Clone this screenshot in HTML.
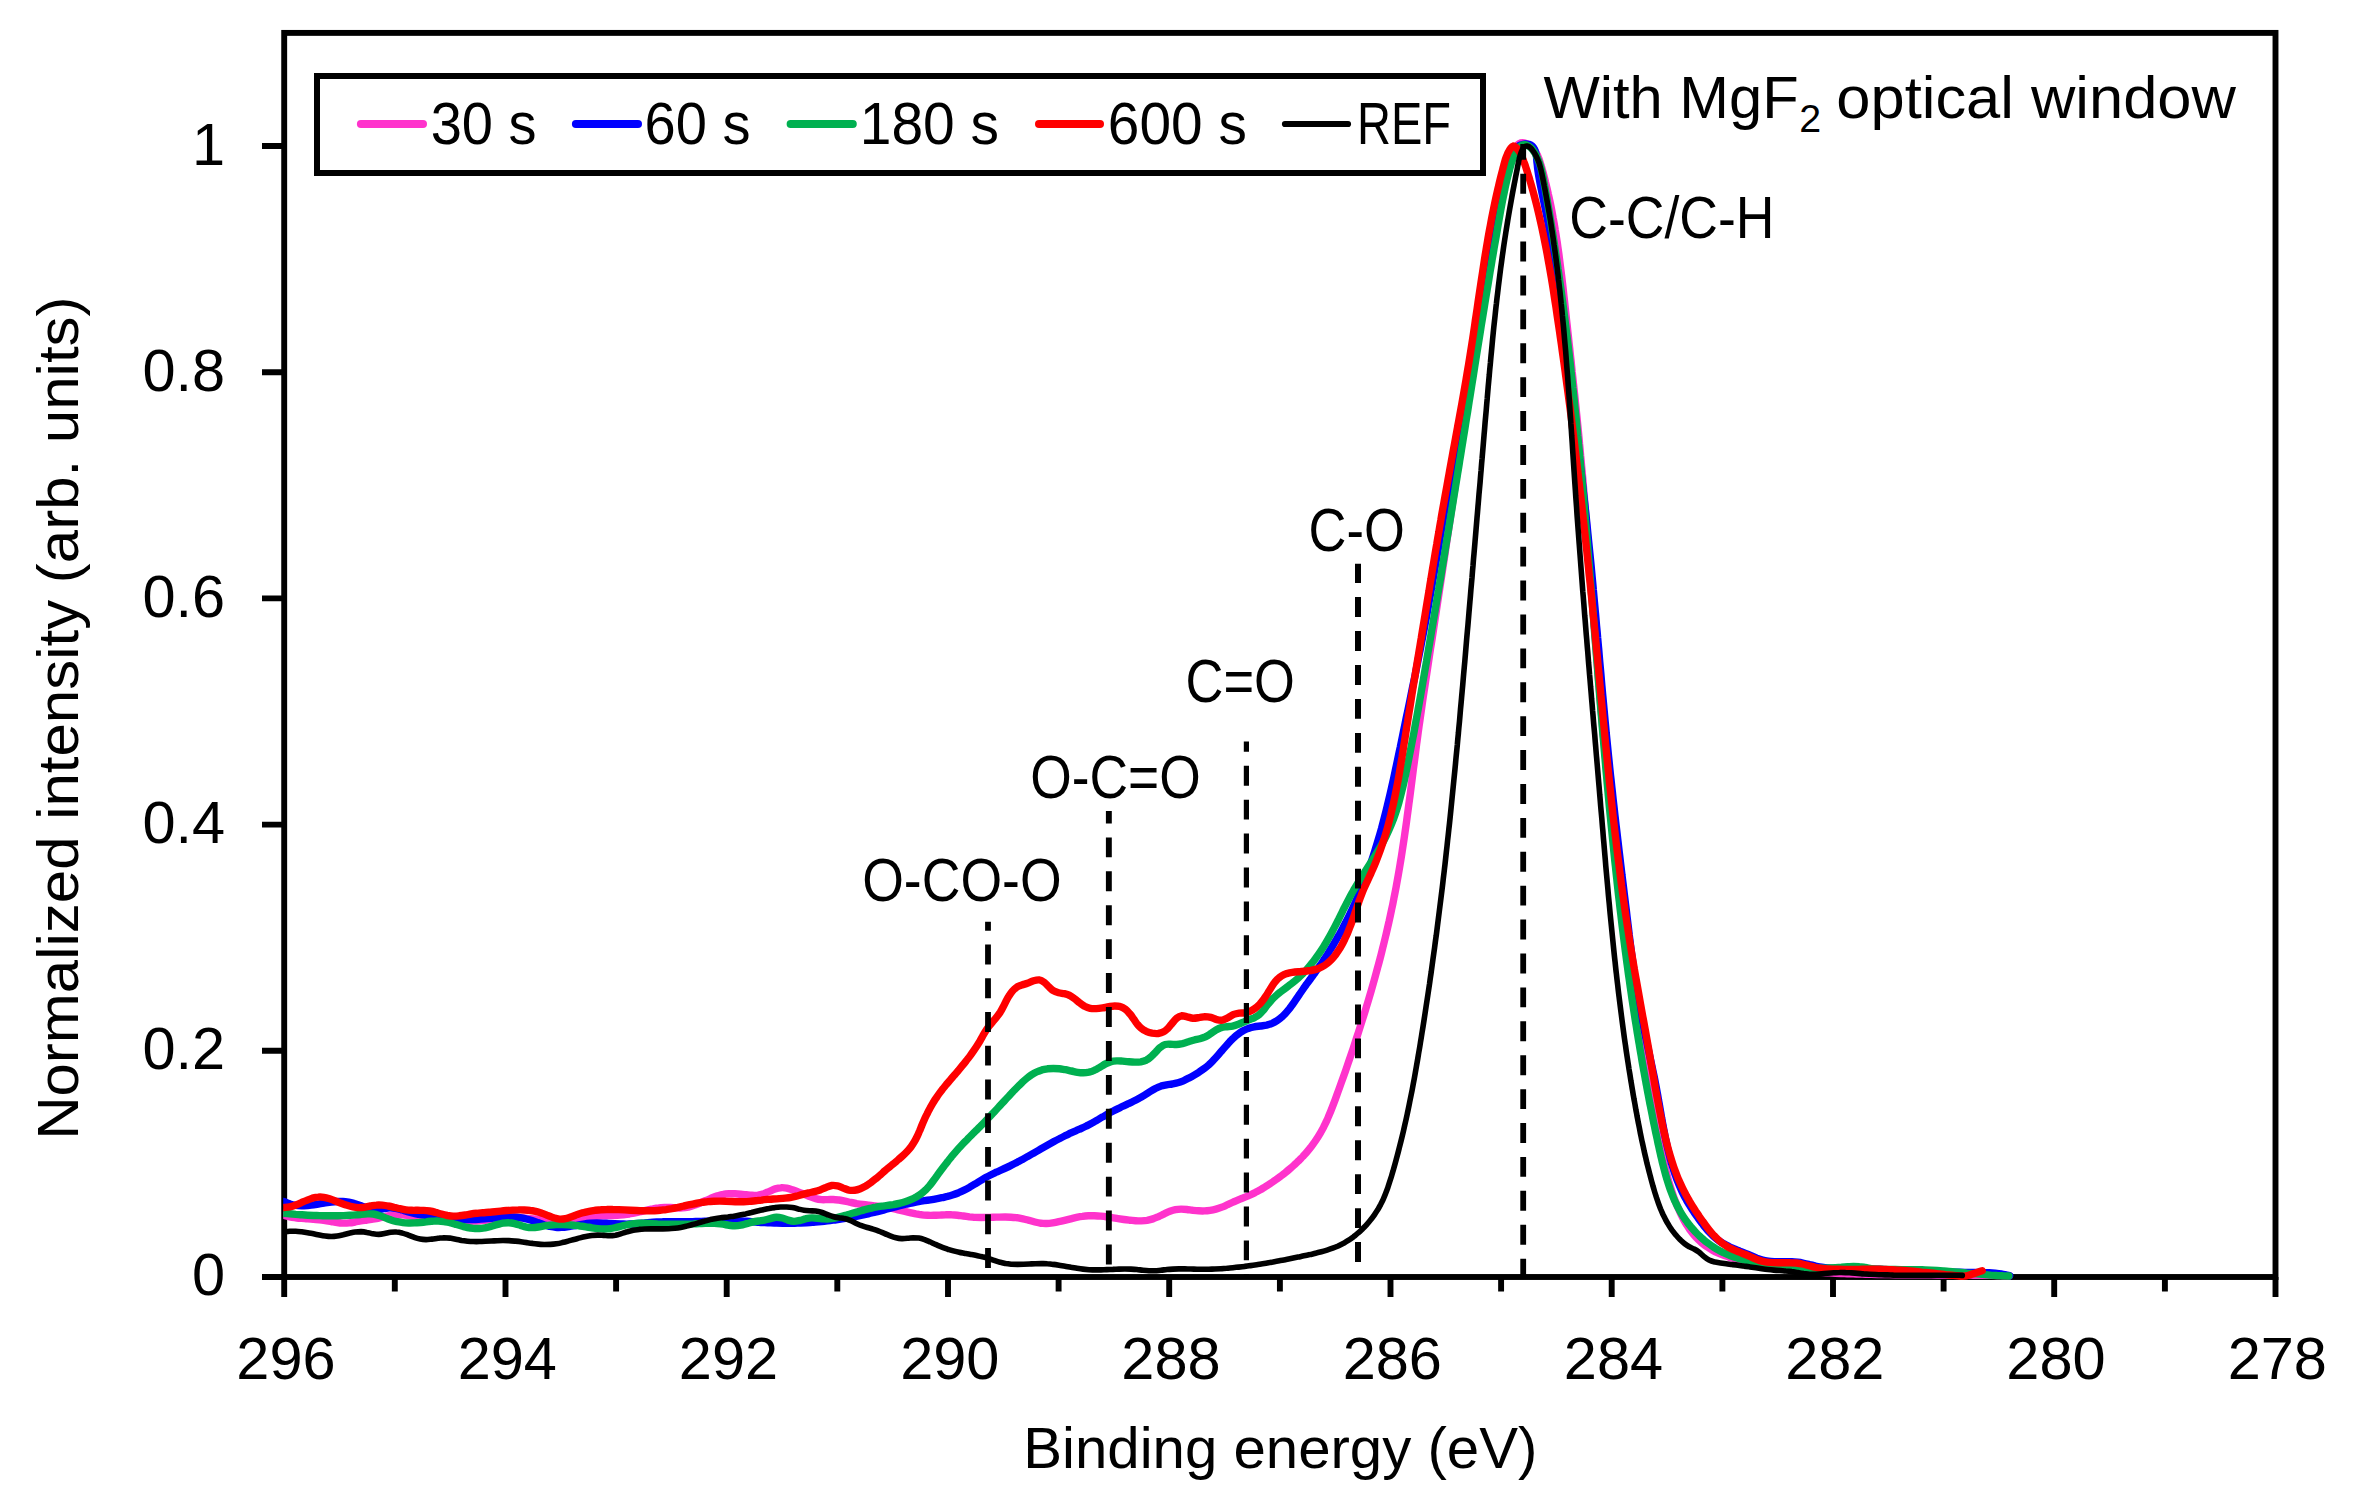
<!DOCTYPE html>
<html lang="en"><head><meta charset="utf-8"><title>C 1s XPS spectra with MgF2 optical window</title>
<style>html,body{margin:0;padding:0;background:#fff}svg{display:block}</style></head>
<body>
<svg width="2357" height="1502" viewBox="0 0 2357 1502">
<rect width="2357" height="1502" fill="#fff"/>
<g fill="none" stroke="#000" stroke-width="5.9" stroke-linecap="butt" stroke-linejoin="miter">
<rect x="284.2" y="32.9" width="1991.3" height="1244.1"/>
<path d="M2275.5,1277.0v20M2164.9,1277.0v14.6M2054.2,1277.0v20M1943.6,1277.0v14.6M1833.0,1277.0v20M1722.4,1277.0v14.6M1611.7,1277.0v20M1501.1,1277.0v14.6M1390.5,1277.0v20M1279.9,1277.0v14.6M1169.2,1277.0v20M1058.6,1277.0v14.6M948.0,1277.0v20M837.3,1277.0v14.6M726.7,1277.0v20M616.1,1277.0v14.6M505.5,1277.0v20M394.8,1277.0v14.6M284.2,1277.0v20M284.2,1277.0H262M284.2,1050.8H262M284.2,824.6H262M284.2,598.4H262M284.2,372.2H262M284.2,146.0H262"/>
</g>
<clipPath id="plotclip"><rect x="283.2" y="0" width="2357" height="1502"/></clipPath>
<g fill="none" stroke-linecap="round" stroke-linejoin="round" clip-path="url(#plotclip)">
<path d="M283.8,1215.3C284.8,1215.6 287.7,1216.4 289.7,1216.8C291.7,1217.2 293.7,1217.5 295.6,1217.8C297.6,1218.1 299.6,1218.3 301.6,1218.4C303.5,1218.6 305.5,1218.7 307.5,1218.9C309.5,1219.0 311.5,1219.1 313.4,1219.3C315.4,1219.4 317.4,1219.6 319.4,1219.8C321.3,1220.0 323.3,1220.3 325.3,1220.6C327.3,1220.9 329.3,1221.3 331.2,1221.6C333.2,1221.9 335.2,1222.3 337.2,1222.5C339.1,1222.8 341.1,1223.0 343.1,1223.1C345.1,1223.2 347.1,1223.1 349.0,1222.9C351.0,1222.8 353.0,1222.4 355.0,1222.0C357.0,1221.7 358.9,1221.2 360.9,1220.9C362.9,1220.5 364.9,1220.3 366.9,1220.0C368.9,1219.7 370.8,1219.5 372.8,1219.2C374.8,1218.9 376.8,1218.6 378.8,1218.1C380.7,1217.7 382.7,1217.1 384.7,1216.6C386.7,1216.1 388.7,1215.5 390.7,1215.2C392.6,1214.9 394.6,1214.6 396.6,1214.5C398.6,1214.5 400.6,1214.6 402.6,1214.8C404.5,1214.9 406.5,1215.3 408.5,1215.6C410.5,1215.9 412.5,1216.3 414.5,1216.7C416.5,1217.0 418.4,1217.4 420.4,1217.6C422.4,1217.9 424.4,1218.2 426.4,1218.4C428.4,1218.6 430.4,1218.8 432.3,1219.0C434.3,1219.1 436.3,1219.3 438.3,1219.5C440.3,1219.6 442.3,1219.8 444.3,1220.0C446.2,1220.1 448.2,1220.3 450.2,1220.5C452.2,1220.6 454.2,1220.8 456.2,1220.9C458.2,1221.0 460.2,1221.1 462.1,1221.2C464.1,1221.3 466.1,1221.3 468.1,1221.3C470.1,1221.3 472.1,1221.2 474.1,1221.1C476.1,1221.1 478.1,1220.9 480.0,1220.7C482.0,1220.6 484.0,1220.4 486.0,1220.2C488.0,1219.9 490.0,1219.7 492.0,1219.5C494.0,1219.3 496.0,1219.0 498.0,1218.8C500.0,1218.6 501.9,1218.4 503.9,1218.3C505.9,1218.1 507.9,1218.0 509.9,1217.9C511.9,1217.8 513.9,1217.8 515.9,1217.8C517.9,1217.8 519.9,1217.9 521.9,1218.0C523.9,1218.1 525.9,1218.2 527.8,1218.4C529.8,1218.5 531.8,1218.7 533.8,1218.9C535.8,1219.1 537.8,1219.3 539.8,1219.5C541.8,1219.7 543.8,1219.8 545.8,1220.0C547.8,1220.1 549.8,1220.3 551.8,1220.4C553.8,1220.5 555.7,1220.5 557.7,1220.6C559.7,1220.6 561.7,1220.5 563.7,1220.4C565.7,1220.3 567.7,1220.1 569.7,1219.9C571.7,1219.7 573.7,1219.3 575.7,1219.0C577.6,1218.7 579.6,1218.4 581.6,1218.0C583.6,1217.7 585.6,1217.4 587.6,1217.1C589.6,1216.9 591.6,1216.7 593.6,1216.5C595.5,1216.3 597.5,1216.2 599.5,1216.1C601.5,1215.9 603.5,1215.9 605.5,1215.8C607.5,1215.7 609.4,1215.6 611.4,1215.5C613.4,1215.4 615.4,1215.3 617.4,1215.2C619.4,1215.1 621.3,1214.9 623.3,1214.7C625.3,1214.5 627.3,1214.3 629.3,1214.0C631.2,1213.6 633.2,1213.3 635.2,1212.9C637.2,1212.5 639.1,1212.0 641.1,1211.5C643.1,1211.1 645.1,1210.6 647.0,1210.1C649.0,1209.7 651.0,1209.2 652.9,1208.9C654.9,1208.5 656.9,1208.1 658.8,1207.9C660.8,1207.6 662.8,1207.5 664.7,1207.4C666.7,1207.3 668.7,1207.4 670.6,1207.5C672.6,1207.6 674.6,1207.8 676.5,1207.9C678.5,1208.0 680.4,1208.1 682.4,1207.9C684.4,1207.8 686.3,1207.5 688.3,1207.1C690.2,1206.6 692.2,1206.0 694.1,1205.3C696.1,1204.7 698.0,1203.8 700.0,1203.0C701.9,1202.2 703.9,1201.3 705.8,1200.5C707.7,1199.6 709.7,1198.8 711.6,1198.0C713.6,1197.2 715.5,1196.5 717.4,1195.9C719.4,1195.3 721.3,1194.7 723.2,1194.4C725.2,1194.0 727.1,1193.9 729.0,1193.8C731.0,1193.7 732.9,1193.7 734.8,1193.8C736.7,1193.9 738.7,1194.1 740.6,1194.2C742.5,1194.4 744.4,1194.7 746.4,1194.8C748.3,1195.0 750.2,1195.3 752.1,1195.3C754.0,1195.4 756.0,1195.4 757.9,1195.2C759.8,1194.9 761.7,1194.4 763.6,1193.8C765.6,1193.1 767.5,1192.1 769.4,1191.3C771.3,1190.5 773.2,1189.5 775.2,1188.9C777.1,1188.3 779.0,1187.8 780.9,1187.7C782.9,1187.5 784.8,1187.8 786.7,1188.1C788.6,1188.5 790.6,1189.2 792.5,1189.8C794.4,1190.4 796.3,1191.1 798.3,1191.9C800.2,1192.6 802.1,1193.4 804.1,1194.2C806.0,1194.9 807.9,1195.8 809.9,1196.6C811.8,1197.3 813.7,1198.1 815.7,1198.6C817.6,1199.1 819.6,1199.4 821.5,1199.6C823.5,1199.8 825.4,1199.6 827.3,1199.6C829.3,1199.6 831.2,1199.5 833.2,1199.5C835.2,1199.6 837.1,1199.8 839.1,1200.0C841.0,1200.3 843.0,1200.7 844.9,1201.1C846.9,1201.5 848.8,1202.0 850.8,1202.4C852.8,1202.9 854.7,1203.2 856.7,1203.6C858.7,1203.9 860.6,1204.2 862.6,1204.5C864.6,1204.8 866.5,1205.0 868.5,1205.2C870.5,1205.5 872.4,1205.7 874.4,1205.9C876.4,1206.2 878.3,1206.4 880.3,1206.6C882.3,1206.9 884.2,1207.2 886.2,1207.5C888.2,1207.8 890.2,1208.1 892.1,1208.5C894.1,1208.9 896.1,1209.3 898.1,1209.8C900.0,1210.2 902.0,1210.7 904.0,1211.2C906.0,1211.7 907.9,1212.2 909.9,1212.6C911.9,1213.1 913.9,1213.5 915.9,1213.9C917.8,1214.2 919.8,1214.6 921.8,1214.8C923.8,1215.1 925.8,1215.2 927.7,1215.3C929.7,1215.4 931.7,1215.4 933.7,1215.3C935.7,1215.3 937.6,1215.2 939.6,1215.1C941.6,1215.0 943.6,1214.8 945.6,1214.8C947.5,1214.7 949.5,1214.7 951.5,1214.8C953.5,1214.8 955.5,1215.0 957.5,1215.2C959.5,1215.4 961.4,1215.8 963.4,1216.0C965.4,1216.3 967.4,1216.6 969.4,1216.9C971.4,1217.1 973.3,1217.2 975.3,1217.4C977.3,1217.5 979.3,1217.5 981.3,1217.5C983.3,1217.5 985.3,1217.5 987.2,1217.4C989.2,1217.4 991.2,1217.3 993.2,1217.2C995.2,1217.2 997.2,1217.1 999.2,1217.1C1001.1,1217.0 1003.1,1217.0 1005.1,1217.0C1007.1,1217.0 1009.1,1217.1 1011.1,1217.2C1013.1,1217.3 1015.0,1217.5 1017.0,1217.7C1019.0,1218.0 1021.0,1218.4 1023.0,1218.8C1025.0,1219.2 1026.9,1219.8 1028.9,1220.3C1030.9,1220.9 1032.9,1221.5 1034.9,1222.0C1036.9,1222.5 1038.9,1223.0 1040.8,1223.2C1042.8,1223.5 1044.8,1223.6 1046.8,1223.5C1048.8,1223.5 1050.8,1223.2 1052.7,1222.9C1054.7,1222.6 1056.7,1222.2 1058.7,1221.7C1060.7,1221.3 1062.7,1220.8 1064.6,1220.3C1066.6,1219.8 1068.6,1219.3 1070.6,1218.8C1072.6,1218.3 1074.5,1217.8 1076.5,1217.4C1078.5,1217.0 1080.5,1216.6 1082.5,1216.4C1084.4,1216.1 1086.4,1215.9 1088.4,1215.8C1090.4,1215.7 1092.4,1215.7 1094.3,1215.7C1096.3,1215.8 1098.3,1215.9 1100.3,1216.1C1102.2,1216.3 1104.2,1216.5 1106.2,1216.8C1108.2,1217.0 1110.1,1217.3 1112.1,1217.6C1114.1,1217.9 1116.0,1218.3 1118.0,1218.6C1119.9,1218.9 1121.9,1219.2 1123.9,1219.5C1125.8,1219.8 1127.8,1220.0 1129.7,1220.2C1131.7,1220.5 1133.6,1220.6 1135.5,1220.7C1137.5,1220.9 1139.4,1220.9 1141.3,1220.9C1143.3,1220.8 1145.2,1220.7 1147.1,1220.4C1149.0,1220.0 1151.0,1219.5 1152.9,1218.9C1154.8,1218.3 1156.7,1217.4 1158.6,1216.6C1160.5,1215.7 1162.4,1214.7 1164.3,1213.8C1166.1,1213.0 1168.0,1212.0 1169.9,1211.3C1171.8,1210.6 1173.6,1210.0 1175.5,1209.6C1177.3,1209.2 1179.2,1209.1 1181.1,1209.1C1183.0,1209.1 1184.9,1209.3 1186.8,1209.5C1188.8,1209.7 1190.7,1210.1 1192.6,1210.3C1194.6,1210.5 1196.5,1210.7 1198.5,1210.8C1200.4,1210.9 1202.4,1211.0 1204.3,1210.9C1206.3,1210.8 1208.2,1210.6 1210.2,1210.3C1212.2,1210.0 1214.1,1209.6 1216.0,1209.1C1218.0,1208.6 1219.9,1207.9 1221.9,1207.1C1223.8,1206.4 1225.7,1205.5 1227.6,1204.7C1229.5,1203.8 1231.4,1202.9 1233.3,1202.0C1235.2,1201.2 1237.1,1200.4 1238.9,1199.6C1240.7,1198.8 1242.6,1198.2 1244.4,1197.4C1246.2,1196.7 1248.0,1196.0 1249.8,1195.2C1251.5,1194.4 1253.3,1193.5 1255.1,1192.6C1256.8,1191.7 1258.5,1190.8 1260.3,1189.8C1262.0,1188.8 1263.7,1187.7 1265.4,1186.7C1267.1,1185.6 1268.8,1184.5 1270.5,1183.4C1272.1,1182.3 1273.8,1181.2 1275.4,1180.0C1277.1,1178.9 1278.7,1177.7 1280.3,1176.5C1282.0,1175.2 1283.6,1174.0 1285.1,1172.8C1286.7,1171.5 1288.3,1170.2 1289.8,1168.9C1291.3,1167.6 1292.8,1166.3 1294.3,1164.9C1295.8,1163.6 1297.2,1162.2 1298.7,1160.8C1300.1,1159.4 1301.5,1157.9 1302.9,1156.5C1304.2,1155.0 1305.6,1153.5 1306.9,1152.0C1308.2,1150.5 1309.4,1149.0 1310.7,1147.4C1311.9,1145.8 1313.1,1144.3 1314.2,1142.6C1315.4,1141.0 1316.5,1139.4 1317.5,1137.7C1318.6,1136.0 1319.6,1134.3 1320.6,1132.6C1321.6,1130.9 1322.5,1129.1 1323.5,1127.4C1324.4,1125.6 1325.2,1123.8 1326.1,1122.0C1326.9,1120.2 1327.4,1119.3 1328.5,1116.5C1329.7,1113.8 1331.6,1109.1 1333.0,1105.4C1334.5,1101.6 1335.9,1097.8 1337.2,1094.0C1338.6,1090.2 1340.0,1086.4 1341.3,1082.6C1342.7,1078.8 1344.0,1075.0 1345.4,1071.2C1346.7,1067.4 1348.0,1063.6 1349.3,1059.8C1350.6,1056.0 1351.9,1052.2 1353.2,1048.4C1354.4,1044.6 1355.7,1040.8 1356.9,1037.0C1358.2,1033.2 1359.4,1029.4 1360.6,1025.5C1361.8,1021.7 1363.0,1017.9 1364.2,1014.1C1365.4,1010.2 1366.5,1006.4 1367.7,1002.6C1368.8,998.8 1370.0,994.9 1371.1,991.1C1372.2,987.2 1373.3,983.4 1374.4,979.6C1375.4,975.7 1376.5,971.9 1377.5,968.0C1378.6,964.2 1379.6,960.3 1380.6,956.5C1381.6,952.6 1382.5,948.7 1383.5,944.9C1384.5,941.0 1385.4,937.1 1386.3,933.3C1387.2,929.4 1388.1,925.5 1389.0,921.6C1389.9,917.7 1390.7,913.9 1391.5,910.0C1392.4,906.1 1393.2,902.2 1393.9,898.3C1394.7,894.4 1395.5,890.5 1396.2,886.6C1396.9,882.6 1397.6,878.7 1398.3,874.8C1399.0,870.9 1399.7,867.0 1400.3,863.0C1401.0,859.1 1401.6,855.2 1402.2,851.2C1402.8,847.3 1403.4,843.4 1404.0,839.4C1404.6,835.5 1405.1,831.5 1405.7,827.6C1406.3,823.6 1406.8,819.7 1407.3,815.7C1407.9,811.8 1408.4,807.8 1408.9,803.8C1409.5,799.9 1410.0,795.9 1410.5,791.9C1411.0,788.0 1411.5,784.0 1412.0,780.0C1412.5,776.1 1413.0,772.1 1413.5,768.1C1414.0,764.1 1414.6,760.2 1415.1,756.2C1415.6,752.2 1416.1,748.2 1416.6,744.3C1417.2,740.3 1417.7,736.3 1418.2,732.3C1418.8,728.3 1419.3,724.4 1419.9,720.4C1420.5,716.4 1421.0,712.4 1421.6,708.4C1422.2,704.5 1422.7,700.5 1423.3,696.5C1423.9,692.5 1424.5,688.5 1425.1,684.6C1425.7,680.6 1426.3,676.6 1426.9,672.6C1427.5,668.7 1428.1,664.7 1428.7,660.7C1429.3,656.7 1429.9,652.8 1430.5,648.8C1431.1,644.8 1431.8,640.9 1432.4,636.9C1433.0,632.9 1433.6,629.0 1434.2,625.0C1434.8,621.0 1435.4,617.1 1436.0,613.1C1436.6,609.2 1437.2,605.2 1437.8,601.3C1438.4,597.3 1439.0,593.4 1439.6,589.4C1440.2,585.5 1440.8,581.5 1441.4,577.6C1442.0,573.7 1442.6,569.7 1443.2,565.8C1443.8,561.8 1444.4,557.9 1445.0,554.0C1445.6,550.0 1446.1,546.1 1446.7,542.2C1447.3,538.2 1447.9,534.3 1448.5,530.4C1449.1,526.5 1449.7,522.5 1450.3,518.6C1450.8,514.7 1451.4,510.7 1452.0,506.8C1452.6,502.9 1453.2,499.0 1453.8,495.0C1454.4,491.1 1455.0,487.2 1455.6,483.3C1456.1,479.3 1456.7,475.4 1457.3,471.5C1457.9,467.6 1458.5,463.7 1459.1,459.7C1459.7,455.8 1460.3,451.9 1460.9,448.0C1461.5,444.0 1462.1,440.1 1462.7,436.2C1463.3,432.3 1463.9,428.3 1464.5,424.4C1465.1,420.5 1465.7,416.6 1466.3,412.6C1466.9,408.7 1467.5,404.8 1468.1,400.9C1468.7,396.9 1469.3,393.0 1469.9,389.1C1470.5,385.1 1471.1,381.2 1471.7,377.3C1472.3,373.3 1473.0,369.4 1473.6,365.5C1474.2,361.5 1474.8,357.6 1475.4,353.6C1476.1,349.7 1476.7,345.8 1477.3,341.8C1478.0,337.9 1478.6,334.0 1479.2,330.0C1479.9,326.1 1480.5,322.1 1481.1,318.2C1481.8,314.3 1482.4,310.3 1483.1,306.4C1483.7,302.5 1484.4,298.5 1485.1,294.6C1485.7,290.6 1486.4,286.7 1487.0,282.8C1487.7,278.8 1488.4,274.9 1489.1,271.0C1489.7,267.1 1490.4,263.1 1491.1,259.2C1491.8,255.3 1492.5,251.3 1493.2,247.4C1493.9,243.5 1494.6,239.6 1495.3,235.6C1496.0,231.7 1496.7,227.8 1497.4,223.9C1498.1,220.0 1498.9,216.1 1499.6,212.1C1500.3,208.2 1501.0,204.3 1501.8,200.4C1502.5,196.5 1503.5,191.3 1504.0,188.7C1504.5,186.1 1504.5,186.1 1504.8,184.8C1505.1,183.5 1505.3,182.2 1505.6,180.9C1505.9,179.6 1506.2,178.3 1506.5,177.0C1506.7,175.7 1507.0,174.4 1507.4,173.1C1507.7,171.8 1508.0,170.5 1508.3,169.2C1508.7,167.9 1509.0,166.6 1509.4,165.3C1509.7,164.0 1510.1,162.7 1510.5,161.4C1510.9,160.1 1511.3,158.8 1511.7,157.5C1512.1,156.2 1512.6,154.9 1513.0,153.6C1513.5,152.3 1514.0,151.0 1514.6,149.8C1515.2,148.6 1515.8,147.3 1516.6,146.2C1517.4,145.2 1518.3,144.1 1519.3,143.6C1520.3,143.0 1521.4,142.8 1522.6,142.8C1523.8,142.8 1525.1,143.1 1526.4,143.6C1527.6,144.1 1528.9,144.8 1530.0,145.6C1531.2,146.4 1532.2,147.4 1533.1,148.3C1534.0,149.3 1534.8,150.4 1535.5,151.5C1536.2,152.5 1536.7,153.7 1537.3,154.9C1537.8,156.0 1538.3,157.3 1538.8,158.5C1539.3,159.7 1539.7,161.0 1540.1,162.3C1540.5,163.6 1540.9,164.9 1541.3,166.2C1541.7,167.5 1542.1,168.9 1542.4,170.2C1542.8,171.5 1543.2,172.9 1543.5,174.2C1543.9,175.5 1544.2,176.8 1544.5,178.2C1544.9,179.5 1544.9,179.5 1545.5,182.1C1546.2,184.8 1547.5,190.1 1548.3,194.1C1549.2,198.0 1550.1,202.0 1550.9,206.0C1551.7,209.9 1552.4,213.9 1553.1,217.9C1553.9,221.8 1554.6,225.8 1555.2,229.8C1555.9,233.7 1556.5,237.7 1557.1,241.6C1557.7,245.6 1558.2,249.6 1558.8,253.5C1559.3,257.5 1559.8,261.4 1560.3,265.4C1560.8,269.3 1561.3,273.3 1561.8,277.3C1562.3,281.2 1562.7,285.2 1563.2,289.1C1563.6,293.1 1564.0,297.0 1564.5,301.0C1564.9,304.9 1565.3,308.9 1565.8,312.8C1566.2,316.8 1566.6,320.7 1567.1,324.7C1567.5,328.6 1567.9,332.6 1568.4,336.5C1568.8,340.5 1569.2,344.4 1569.7,348.4C1570.1,352.3 1570.5,356.3 1571.0,360.2C1571.4,364.2 1571.8,368.1 1572.2,372.1C1572.7,376.1 1573.1,380.0 1573.5,384.0C1573.9,387.9 1574.3,391.9 1574.8,395.8C1575.2,399.8 1575.6,403.7 1576.0,407.7C1576.4,411.7 1576.8,415.6 1577.2,419.6C1577.6,423.5 1578.0,427.5 1578.4,431.5C1578.8,435.4 1579.2,439.4 1579.5,443.4C1579.9,447.3 1580.3,451.3 1580.6,455.3C1581.0,459.2 1581.4,463.2 1581.7,467.2C1582.1,471.2 1582.4,475.1 1582.8,479.1C1583.1,483.1 1583.5,487.1 1583.8,491.0C1584.2,495.0 1584.5,499.0 1584.8,503.0C1585.1,507.0 1585.5,510.9 1585.8,514.9C1586.1,518.9 1586.4,522.9 1586.8,526.9C1587.1,530.9 1587.4,534.9 1587.7,538.8C1588.0,542.8 1588.3,546.8 1588.6,550.8C1588.9,554.8 1589.2,558.8 1589.6,562.8C1589.9,566.8 1590.2,570.8 1590.5,574.8C1590.8,578.8 1591.1,582.7 1591.4,586.7C1591.7,590.7 1592.0,594.7 1592.3,598.7C1592.6,602.7 1592.9,606.7 1593.2,610.7C1593.5,614.7 1593.8,618.7 1594.1,622.7C1594.4,626.7 1594.7,630.7 1595.0,634.7C1595.3,638.7 1595.6,642.7 1595.9,646.7C1596.3,650.7 1596.6,654.6 1596.9,658.6C1597.2,662.6 1597.5,666.6 1597.8,670.6C1598.2,674.6 1598.5,678.6 1598.8,682.6C1599.1,686.6 1599.5,690.6 1599.8,694.6C1600.1,698.6 1600.5,702.6 1600.8,706.6C1601.2,710.6 1601.5,714.5 1601.9,718.5C1602.2,722.5 1602.6,726.5 1602.9,730.5C1603.3,734.5 1603.7,738.5 1604.1,742.5C1604.4,746.5 1604.8,750.4 1605.2,754.4C1605.6,758.4 1606.0,762.4 1606.4,766.4C1606.8,770.4 1607.2,774.3 1607.6,778.3C1608.0,782.3 1608.4,786.3 1608.8,790.3C1609.2,794.2 1609.6,798.2 1610.1,802.2C1610.5,806.2 1610.9,810.2 1611.4,814.1C1611.8,818.1 1612.3,822.1 1612.7,826.1C1613.2,830.0 1613.6,834.0 1614.1,838.0C1614.5,841.9 1615.0,845.9 1615.5,849.9C1615.9,853.9 1616.4,857.8 1616.9,861.8C1617.4,865.8 1617.9,869.7 1618.4,873.7C1618.8,877.7 1619.3,881.6 1619.8,885.6C1620.3,889.6 1620.9,893.5 1621.4,897.5C1621.9,901.5 1622.4,905.4 1622.9,909.4C1623.4,913.3 1624.0,917.3 1624.5,921.3C1625.0,925.2 1625.6,929.2 1626.1,933.1C1626.7,937.1 1627.2,941.1 1627.8,945.0C1628.3,949.0 1628.9,952.9 1629.4,956.9C1630.0,960.8 1630.5,964.8 1631.1,968.7C1631.7,972.7 1632.3,976.6 1632.8,980.6C1633.4,984.5 1634.0,988.5 1634.6,992.4C1635.2,996.4 1635.8,1000.3 1636.4,1004.3C1637.0,1008.2 1637.6,1012.2 1638.2,1016.1C1638.8,1020.1 1639.4,1024.0 1640.0,1028.0C1640.7,1031.9 1641.3,1035.8 1641.9,1039.8C1642.5,1043.7 1643.2,1047.7 1643.8,1051.6C1644.5,1055.5 1645.1,1059.5 1645.7,1063.4C1646.4,1067.4 1647.0,1071.3 1647.7,1075.2C1648.4,1079.2 1649.2,1084.1 1649.7,1087.0C1650.2,1090.0 1650.4,1091.0 1650.7,1092.9C1651.1,1094.9 1651.4,1096.9 1651.7,1098.8C1652.1,1100.8 1652.4,1102.8 1652.8,1104.7C1653.1,1106.7 1653.5,1108.7 1653.8,1110.6C1654.2,1112.6 1654.6,1114.6 1654.9,1116.5C1655.3,1118.5 1655.6,1120.5 1656.0,1122.4C1656.4,1124.4 1656.7,1126.3 1657.1,1128.3C1657.5,1130.3 1657.8,1132.2 1658.2,1134.2C1658.6,1136.2 1659.0,1138.1 1659.4,1140.1C1659.7,1142.1 1660.1,1144.0 1660.5,1146.0C1660.9,1147.9 1661.3,1149.9 1661.7,1151.9C1662.1,1153.8 1662.5,1155.8 1662.9,1157.7C1663.4,1159.7 1663.8,1161.6 1664.2,1163.6C1664.7,1165.5 1665.1,1167.5 1665.6,1169.4C1666.1,1171.4 1666.6,1173.3 1667.1,1175.2C1667.6,1177.1 1668.1,1179.1 1668.6,1181.0C1669.2,1182.9 1669.7,1184.8 1670.3,1186.7C1670.9,1188.6 1671.5,1190.5 1672.2,1192.4C1672.8,1194.3 1673.4,1196.2 1674.1,1198.0C1674.8,1199.9 1675.5,1201.8 1676.3,1203.6C1677.0,1205.5 1677.8,1207.3 1678.6,1209.1C1679.4,1211.0 1680.2,1212.8 1681.1,1214.6C1682.0,1216.4 1682.9,1218.2 1683.8,1219.9C1684.8,1221.7 1685.8,1223.4 1686.8,1225.1C1687.9,1226.8 1689.0,1228.5 1690.1,1230.1C1691.3,1231.7 1692.5,1233.3 1693.8,1234.8C1695.1,1236.3 1696.5,1237.8 1697.9,1239.2C1699.3,1240.7 1700.9,1242.0 1702.4,1243.3C1704.0,1244.6 1705.6,1245.8 1707.3,1247.0C1709.0,1248.1 1710.7,1249.2 1712.5,1250.2C1714.2,1251.2 1716.0,1252.1 1717.8,1252.9C1719.6,1253.7 1721.4,1254.4 1723.2,1255.1C1725.1,1255.8 1726.9,1256.4 1728.8,1257.1C1730.7,1257.7 1732.6,1258.2 1734.5,1258.8C1736.4,1259.4 1738.3,1260.0 1740.2,1260.5C1742.2,1261.0 1744.1,1261.6 1746.1,1262.1C1748.0,1262.5 1750.0,1263.0 1751.9,1263.4C1753.9,1263.9 1755.9,1264.3 1757.8,1264.6C1759.8,1265.0 1761.8,1265.4 1763.8,1265.7C1765.7,1266.1 1767.7,1266.4 1769.7,1266.7C1771.7,1267.0 1773.7,1267.3 1775.7,1267.6C1777.6,1267.9 1779.6,1268.2 1781.6,1268.5C1783.6,1268.7 1785.6,1269.0 1787.6,1269.2C1789.6,1269.5 1791.5,1269.7 1793.5,1269.9C1795.5,1270.2 1797.5,1270.4 1799.5,1270.6C1801.5,1270.8 1803.5,1271.0 1805.5,1271.2C1807.4,1271.3 1809.4,1271.5 1811.4,1271.7C1813.4,1271.8 1815.4,1272.0 1817.4,1272.1C1819.4,1272.3 1821.4,1272.4 1823.4,1272.5C1825.4,1272.7 1827.4,1272.8 1829.4,1272.9C1831.4,1273.0 1833.3,1273.1 1835.3,1273.2C1837.3,1273.3 1839.3,1273.4 1841.3,1273.5C1843.3,1273.6 1845.3,1273.6 1847.3,1273.7C1849.3,1273.8 1851.3,1273.9 1853.3,1273.9C1855.3,1274.0 1857.3,1274.0 1859.3,1274.1C1861.3,1274.1 1863.3,1274.2 1865.3,1274.2C1867.3,1274.3 1869.3,1274.3 1871.3,1274.4C1873.3,1274.4 1875.3,1274.4 1877.3,1274.5C1879.3,1274.5 1881.3,1274.5 1883.3,1274.6C1885.3,1274.6 1887.3,1274.6 1889.3,1274.6C1891.3,1274.7 1893.3,1274.7 1895.3,1274.7C1897.3,1274.7 1899.3,1274.7 1901.3,1274.8C1903.3,1274.8 1905.3,1274.8 1907.3,1274.8C1909.3,1274.8 1911.3,1274.8 1913.3,1274.8C1915.3,1274.8 1917.3,1274.9 1919.3,1274.9C1921.3,1274.9 1923.3,1274.9 1925.3,1274.9C1927.3,1274.9 1929.3,1274.9 1931.3,1274.9C1933.3,1274.9 1935.3,1274.9 1937.3,1275.0C1939.3,1275.0 1941.3,1275.0 1943.3,1275.0C1945.3,1275.0 1947.3,1275.0 1949.3,1275.0C1951.3,1275.0 1953.3,1275.0 1955.3,1275.0C1957.3,1275.1 1959.3,1275.1 1961.3,1275.1C1963.3,1275.1 1965.3,1275.1 1967.3,1275.1C1969.3,1275.1 1971.3,1275.2 1973.3,1275.2C1975.3,1275.2 1977.3,1275.2 1979.3,1275.3C1981.3,1275.3 1983.3,1275.3 1985.3,1275.3C1987.3,1275.4 1989.3,1275.4 1991.3,1275.4C1993.3,1275.5 1995.3,1275.5 1997.3,1275.5C1999.3,1275.6 2001.3,1275.6 2003.3,1275.7C2005.3,1275.7 2008.3,1275.8 2009.3,1275.8" stroke="#FF33CC" stroke-width="7.4"/>
<path d="M283.8,1201.5C284.8,1201.9 287.8,1203.3 289.8,1203.9C291.8,1204.6 293.8,1205.0 295.7,1205.3C297.7,1205.6 299.7,1205.7 301.7,1205.8C303.7,1205.8 305.6,1205.7 307.6,1205.6C309.6,1205.4 311.6,1205.2 313.5,1204.9C315.5,1204.6 317.5,1204.3 319.4,1203.9C321.4,1203.6 323.3,1203.2 325.3,1202.9C327.2,1202.6 329.2,1202.3 331.2,1202.0C333.1,1201.8 335.1,1201.6 337.0,1201.5C339.0,1201.4 340.9,1201.4 342.9,1201.5C344.8,1201.6 346.8,1201.9 348.7,1202.2C350.7,1202.6 352.6,1203.0 354.6,1203.6C356.5,1204.1 358.4,1204.8 360.4,1205.5C362.3,1206.2 364.3,1207.0 366.2,1207.6C368.2,1208.2 370.1,1208.9 372.1,1209.2C374.0,1209.5 376.0,1209.6 377.9,1209.6C379.9,1209.5 381.8,1209.0 383.8,1208.7C385.7,1208.4 387.7,1208.0 389.6,1207.9C391.6,1207.8 393.6,1208.0 395.5,1208.3C397.5,1208.6 399.4,1209.3 401.4,1209.8C403.4,1210.4 405.3,1211.1 407.3,1211.7C409.3,1212.2 411.2,1212.7 413.2,1213.2C415.2,1213.7 417.1,1214.0 419.1,1214.4C421.1,1214.7 423.0,1215.1 425.0,1215.4C427.0,1215.7 429.0,1216.0 430.9,1216.3C432.9,1216.6 434.9,1216.9 436.9,1217.1C438.9,1217.4 440.8,1217.6 442.8,1217.9C444.8,1218.1 446.8,1218.3 448.8,1218.5C450.7,1218.7 452.7,1218.9 454.7,1219.0C456.7,1219.1 458.7,1219.3 460.7,1219.4C462.6,1219.4 464.6,1219.5 466.6,1219.5C468.6,1219.6 470.6,1219.6 472.6,1219.6C474.5,1219.5 476.5,1219.5 478.5,1219.4C480.5,1219.3 482.5,1219.1 484.5,1218.9C486.4,1218.8 488.4,1218.6 490.4,1218.4C492.4,1218.2 494.4,1217.9 496.4,1217.7C498.3,1217.6 500.3,1217.4 502.3,1217.2C504.3,1217.1 506.3,1217.0 508.2,1217.0C510.2,1216.9 512.2,1216.9 514.2,1217.0C516.2,1217.2 518.1,1217.4 520.1,1217.7C522.1,1218.0 524.1,1218.4 526.0,1218.9C528.0,1219.3 530.0,1219.9 531.9,1220.5C533.9,1221.2 535.9,1221.9 537.8,1222.6C539.8,1223.3 541.8,1224.0 543.7,1224.7C545.7,1225.3 547.7,1225.9 549.6,1226.4C551.6,1226.8 553.5,1227.2 555.5,1227.3C557.5,1227.5 559.4,1227.5 561.4,1227.4C563.3,1227.3 565.3,1227.1 567.3,1226.8C569.2,1226.6 571.2,1226.2 573.1,1225.9C575.1,1225.6 577.1,1225.2 579.0,1224.8C581.0,1224.5 583.0,1224.2 584.9,1223.9C586.9,1223.6 588.9,1223.4 590.8,1223.2C592.8,1223.1 594.8,1223.0 596.8,1223.0C598.7,1223.0 600.7,1223.0 602.7,1223.1C604.7,1223.1 606.7,1223.3 608.7,1223.4C610.6,1223.5 612.6,1223.6 614.6,1223.7C616.6,1223.8 618.6,1223.9 620.6,1224.0C622.6,1224.0 624.6,1224.1 626.6,1224.1C628.6,1224.1 630.6,1224.0 632.6,1224.0C634.6,1223.9 636.6,1223.7 638.6,1223.5C640.6,1223.4 642.6,1223.1 644.6,1223.0C646.6,1222.8 648.6,1222.6 650.6,1222.4C652.6,1222.2 654.6,1222.1 656.6,1222.0C658.6,1221.9 660.6,1221.8 662.6,1221.8C664.6,1221.7 666.6,1221.7 668.6,1221.6C670.6,1221.6 672.6,1221.6 674.6,1221.6C676.6,1221.6 678.7,1221.6 680.7,1221.6C682.7,1221.6 684.7,1221.6 686.7,1221.6C688.7,1221.6 690.7,1221.6 692.7,1221.6C694.7,1221.5 696.7,1221.5 698.7,1221.4C700.7,1221.4 702.7,1221.3 704.7,1221.2C706.7,1221.2 708.7,1221.1 710.7,1221.0C712.7,1220.9 714.7,1220.9 716.7,1220.8C718.8,1220.7 720.8,1220.7 722.8,1220.6C724.8,1220.6 726.8,1220.6 728.8,1220.6C730.8,1220.6 732.8,1220.6 734.8,1220.7C736.8,1220.7 738.8,1220.8 740.8,1220.9C742.8,1221.0 744.7,1221.2 746.7,1221.3C748.7,1221.5 750.7,1221.6 752.7,1221.8C754.7,1221.9 756.7,1222.1 758.7,1222.2C760.7,1222.4 762.7,1222.5 764.7,1222.6C766.7,1222.7 768.7,1222.8 770.7,1222.9C772.7,1223.0 774.7,1223.1 776.7,1223.1C778.6,1223.2 780.6,1223.2 782.6,1223.2C784.6,1223.2 786.6,1223.2 788.6,1223.2C790.6,1223.2 792.6,1223.2 794.6,1223.2C796.5,1223.1 798.5,1223.1 800.5,1223.0C802.5,1222.9 804.5,1222.8 806.5,1222.7C808.5,1222.6 810.4,1222.5 812.4,1222.3C814.4,1222.2 816.4,1222.0 818.4,1221.9C820.3,1221.7 822.3,1221.5 824.3,1221.3C826.3,1221.1 828.3,1220.8 830.2,1220.6C832.2,1220.3 834.2,1220.1 836.2,1219.8C838.1,1219.5 840.1,1219.2 842.1,1218.9C844.1,1218.6 846.0,1218.3 848.0,1217.9C850.0,1217.6 852.0,1217.2 853.9,1216.8C855.9,1216.4 857.9,1216.0 859.8,1215.6C861.8,1215.2 863.8,1214.8 865.7,1214.4C867.7,1213.9 869.7,1213.5 871.6,1213.0C873.6,1212.5 875.6,1212.1 877.5,1211.6C879.5,1211.1 881.5,1210.6 883.4,1210.1C885.4,1209.5 887.3,1209.0 889.3,1208.5C891.3,1208.0 893.2,1207.5 895.2,1207.0C897.1,1206.4 899.1,1205.9 901.0,1205.5C903.0,1205.0 905.0,1204.5 906.9,1204.0C908.9,1203.6 910.8,1203.2 912.8,1202.8C914.7,1202.4 916.7,1202.0 918.6,1201.7C920.6,1201.3 922.5,1201.0 924.4,1200.7C926.4,1200.4 928.3,1200.1 930.3,1199.8C932.2,1199.5 934.1,1199.2 936.1,1198.8C938.0,1198.5 939.9,1198.1 941.8,1197.7C943.7,1197.3 945.6,1196.8 947.5,1196.4C949.4,1195.9 951.3,1195.3 953.1,1194.7C955.0,1194.1 956.9,1193.4 958.7,1192.7C960.6,1191.9 962.4,1191.0 964.2,1190.1C966.1,1189.2 967.9,1188.2 969.7,1187.2C971.5,1186.1 973.3,1185.0 975.1,1183.9C976.9,1182.9 978.6,1181.7 980.4,1180.7C982.2,1179.6 983.9,1178.5 985.7,1177.5C987.5,1176.5 989.2,1175.6 991.0,1174.7C992.7,1173.8 994.5,1173.0 996.2,1172.2C998.0,1171.4 999.7,1170.7 1001.5,1169.9C1003.2,1169.1 1004.9,1168.3 1006.7,1167.5C1008.5,1166.7 1010.2,1165.8 1012.0,1164.9C1013.7,1164.1 1015.5,1163.2 1017.2,1162.2C1019.0,1161.3 1020.8,1160.3 1022.5,1159.4C1024.3,1158.4 1026.1,1157.4 1027.8,1156.4C1029.6,1155.4 1031.4,1154.4 1033.1,1153.4C1034.9,1152.4 1036.7,1151.4 1038.5,1150.3C1040.2,1149.3 1042.0,1148.3 1043.8,1147.3C1045.6,1146.3 1047.3,1145.3 1049.1,1144.3C1050.9,1143.3 1052.7,1142.3 1054.4,1141.3C1056.2,1140.3 1058.0,1139.4 1059.8,1138.5C1061.6,1137.5 1063.3,1136.6 1065.1,1135.7C1066.9,1134.9 1068.7,1134.0 1070.4,1133.2C1072.2,1132.4 1074.0,1131.6 1075.8,1130.8C1077.5,1130.0 1079.3,1129.3 1081.1,1128.5C1082.9,1127.7 1084.6,1126.9 1086.4,1126.0C1088.2,1125.2 1089.9,1124.2 1091.7,1123.2C1093.5,1122.3 1095.2,1121.2 1097.0,1120.2C1098.8,1119.2 1100.5,1118.1 1102.3,1117.1C1104.1,1116.1 1105.8,1115.0 1107.6,1114.0C1109.3,1113.1 1111.1,1112.1 1112.8,1111.2C1114.6,1110.3 1116.3,1109.5 1118.1,1108.6C1119.8,1107.8 1121.6,1107.0 1123.3,1106.1C1125.1,1105.3 1126.9,1104.5 1128.6,1103.6C1130.4,1102.8 1132.1,1101.9 1133.9,1101.0C1135.7,1100.1 1137.4,1099.2 1139.2,1098.2C1141.0,1097.3 1142.8,1096.2 1144.6,1095.1C1146.4,1094.0 1148.2,1092.8 1150.0,1091.7C1151.8,1090.6 1153.6,1089.5 1155.4,1088.5C1157.3,1087.6 1159.1,1086.8 1161.0,1086.1C1162.8,1085.5 1164.7,1085.2 1166.6,1084.8C1168.4,1084.5 1170.3,1084.3 1172.2,1084.0C1174.1,1083.6 1176.0,1083.3 1177.8,1082.8C1179.7,1082.3 1181.5,1081.6 1183.4,1080.8C1185.2,1080.0 1187.0,1079.1 1188.8,1078.1C1190.6,1077.2 1192.4,1076.2 1194.2,1075.1C1195.9,1074.1 1197.6,1073.1 1199.3,1071.9C1201.0,1070.8 1202.6,1069.7 1204.2,1068.5C1205.8,1067.3 1207.4,1066.0 1208.9,1064.7C1210.4,1063.3 1211.8,1061.9 1213.2,1060.4C1214.6,1059.0 1216.0,1057.5 1217.4,1055.9C1218.7,1054.4 1220.1,1052.8 1221.4,1051.2C1222.7,1049.7 1224.1,1048.1 1225.4,1046.6C1226.8,1045.0 1228.1,1043.5 1229.5,1042.0C1230.9,1040.6 1232.3,1039.1 1233.8,1037.8C1235.2,1036.5 1236.7,1035.2 1238.3,1034.0C1239.8,1032.9 1241.4,1031.8 1243.1,1030.8C1244.8,1029.9 1246.6,1029.1 1248.4,1028.4C1250.3,1027.8 1252.2,1027.3 1254.2,1026.9C1256.3,1026.5 1258.4,1026.3 1260.5,1026.0C1262.5,1025.7 1264.7,1025.5 1266.6,1025.1C1268.5,1024.6 1270.4,1024.0 1272.1,1023.3C1273.9,1022.5 1275.5,1021.6 1277.1,1020.6C1278.7,1019.6 1280.1,1018.4 1281.6,1017.2C1283.0,1016.0 1284.3,1014.6 1285.6,1013.2C1286.9,1011.8 1288.2,1010.3 1289.4,1008.8C1290.6,1007.2 1291.7,1005.6 1292.9,1004.0C1294.1,1002.4 1295.2,1000.7 1296.3,999.0C1297.5,997.4 1298.6,995.7 1299.7,994.0C1300.9,992.3 1302.0,990.7 1303.2,989.0C1304.3,987.4 1305.5,985.8 1306.6,984.1C1307.8,982.5 1309.0,980.9 1310.2,979.3C1311.3,977.7 1312.5,976.1 1313.7,974.4C1314.8,972.8 1316.0,971.2 1317.1,969.6C1318.3,968.0 1319.4,966.3 1320.6,964.7C1321.7,963.0 1322.8,961.4 1323.9,959.7C1325.0,958.1 1326.1,956.4 1327.2,954.7C1328.3,953.0 1329.3,951.3 1330.4,949.6C1331.4,947.9 1332.5,946.2 1333.5,944.5C1334.5,942.8 1335.5,941.0 1336.5,939.3C1337.5,937.6 1338.5,935.8 1339.5,934.1C1340.5,932.3 1341.4,930.6 1342.4,928.8C1343.3,927.0 1344.2,925.2 1345.2,923.5C1346.1,921.7 1347.0,919.9 1347.9,918.1C1348.8,916.3 1349.7,914.5 1350.5,912.7C1351.4,910.9 1352.3,909.0 1353.1,907.2C1354.0,905.4 1354.8,903.6 1355.6,901.7C1356.4,899.9 1357.2,898.1 1358.0,896.2C1358.8,894.4 1359.6,892.5 1360.4,890.7C1361.1,888.8 1361.5,887.9 1362.6,885.1C1363.7,882.3 1365.6,877.6 1367.0,873.9C1368.3,870.1 1369.7,866.4 1371.0,862.6C1372.3,858.8 1373.5,855.1 1374.7,851.3C1375.9,847.5 1377.1,843.7 1378.2,839.9C1379.3,836.1 1380.4,832.2 1381.5,828.4C1382.5,824.6 1383.5,820.7 1384.5,816.9C1385.5,813.1 1386.5,809.2 1387.4,805.3C1388.4,801.5 1389.3,797.6 1390.2,793.7C1391.1,789.9 1391.9,786.0 1392.8,782.1C1393.7,778.2 1394.5,774.3 1395.3,770.4C1396.2,766.5 1397.0,762.6 1397.8,758.7C1398.6,754.8 1399.4,750.9 1400.3,747.0C1401.1,743.1 1401.9,739.2 1402.7,735.2C1403.5,731.3 1404.3,727.4 1405.1,723.5C1405.9,719.5 1406.7,715.6 1407.6,711.7C1408.4,707.7 1409.2,703.8 1410.0,699.9C1410.8,695.9 1411.6,692.0 1412.4,688.0C1413.2,684.1 1414.0,680.2 1414.9,676.2C1415.7,672.3 1416.4,668.3 1417.2,664.4C1418.0,660.5 1418.8,656.5 1419.6,652.6C1420.4,648.7 1421.1,644.7 1421.9,640.8C1422.7,636.8 1423.4,632.9 1424.2,629.0C1424.9,625.0 1425.6,621.1 1426.4,617.2C1427.1,613.3 1427.8,609.3 1428.5,605.4C1429.2,601.5 1429.9,597.6 1430.6,593.7C1431.3,589.8 1432.0,585.8 1432.6,581.9C1433.3,578.0 1434.0,574.1 1434.6,570.2C1435.3,566.3 1436.0,562.4 1436.6,558.5C1437.3,554.6 1437.9,550.7 1438.6,546.8C1439.2,542.9 1439.9,539.0 1440.5,535.1C1441.2,531.2 1441.8,527.3 1442.5,523.4C1443.1,519.5 1443.8,515.6 1444.4,511.7C1445.1,507.8 1445.7,503.9 1446.4,500.0C1447.0,496.1 1447.7,492.2 1448.4,488.3C1449.1,484.4 1449.7,480.6 1450.4,476.7C1451.1,472.8 1451.8,468.9 1452.5,465.0C1453.2,461.1 1453.9,457.2 1454.7,453.3C1455.4,449.4 1456.2,445.5 1457.0,441.6C1457.7,437.7 1458.5,433.8 1459.3,429.9C1460.0,426.0 1460.8,422.1 1461.5,418.2C1462.2,414.3 1462.9,410.4 1463.5,406.5C1464.2,402.6 1464.8,398.7 1465.4,394.8C1466.0,390.9 1466.6,387.0 1467.2,383.1C1467.8,379.2 1468.4,375.3 1469.0,371.4C1469.6,367.5 1470.2,363.5 1470.9,359.6C1471.5,355.7 1472.1,351.8 1472.7,347.9C1473.4,344.0 1474.0,340.0 1474.6,336.1C1475.3,332.2 1475.9,328.3 1476.6,324.4C1477.2,320.4 1477.9,316.5 1478.5,312.6C1479.2,308.7 1479.9,304.7 1480.5,300.8C1481.2,296.9 1481.9,293.0 1482.6,289.1C1483.2,285.1 1483.9,281.2 1484.6,277.3C1485.3,273.4 1486.0,269.4 1486.7,265.5C1487.4,261.6 1488.2,257.7 1488.9,253.7C1489.6,249.8 1490.3,245.9 1491.1,242.0C1491.8,238.1 1492.6,234.1 1493.3,230.2C1494.1,226.3 1494.8,222.4 1495.6,218.5C1496.4,214.5 1497.2,210.6 1498.0,206.7C1498.7,202.8 1499.5,198.9 1500.4,195.0C1501.2,191.1 1502.3,185.8 1502.9,183.2C1503.4,180.6 1503.4,180.7 1503.8,179.4C1504.1,178.1 1504.4,176.8 1504.7,175.5C1505.1,174.2 1505.4,172.9 1505.8,171.6C1506.1,170.4 1506.5,169.1 1506.9,167.8C1507.3,166.5 1507.7,165.3 1508.1,164.0C1508.5,162.7 1509.0,161.5 1509.5,160.2C1509.9,159.0 1510.4,157.7 1510.9,156.5C1511.5,155.3 1512.0,154.0 1512.6,152.8C1513.3,151.7 1513.9,150.5 1514.8,149.5C1515.6,148.5 1516.6,147.5 1517.7,146.7C1518.8,145.9 1520.0,145.3 1521.3,144.8C1522.5,144.3 1523.9,144.0 1525.2,143.9C1526.5,143.8 1527.8,144.0 1529.0,144.3C1530.2,144.7 1531.3,145.3 1532.2,146.1C1533.1,146.9 1533.8,147.9 1534.4,149.0C1535.0,150.1 1535.4,151.4 1535.7,152.7C1536.1,154.0 1536.3,155.5 1536.5,156.9C1536.7,158.4 1536.8,159.9 1536.9,161.4C1537.1,162.9 1537.2,164.4 1537.4,165.9C1537.5,167.3 1537.7,168.8 1537.9,170.2C1538.1,171.6 1538.1,171.7 1538.5,174.4C1539.0,177.1 1539.9,182.6 1540.7,186.6C1541.5,190.5 1542.3,194.4 1543.1,198.2C1543.9,202.1 1544.7,205.9 1545.5,209.8C1546.2,213.7 1547.0,217.5 1547.7,221.4C1548.4,225.3 1549.1,229.2 1549.8,233.1C1550.4,236.9 1551.1,240.8 1551.7,244.7C1552.3,248.6 1552.9,252.5 1553.5,256.4C1554.1,260.3 1554.7,264.2 1555.3,268.2C1555.8,272.1 1556.4,276.0 1556.9,279.9C1557.4,283.8 1558.0,287.7 1558.5,291.7C1559.0,295.6 1559.5,299.5 1560.0,303.5C1560.5,307.4 1561.0,311.3 1561.5,315.3C1562.0,319.2 1562.4,323.2 1562.9,327.1C1563.4,331.1 1563.9,335.0 1564.4,339.0C1564.8,342.9 1565.3,346.9 1565.8,350.8C1566.3,354.8 1566.7,358.7 1567.2,362.7C1567.7,366.7 1568.2,370.6 1568.7,374.6C1569.2,378.6 1569.7,382.5 1570.2,386.5C1570.7,390.5 1571.2,394.4 1571.7,398.4C1572.2,402.4 1572.7,406.4 1573.2,410.3C1573.8,414.3 1574.3,418.3 1574.8,422.3C1575.3,426.3 1575.8,430.2 1576.3,434.2C1576.8,438.2 1577.4,442.2 1577.9,446.2C1578.4,450.1 1578.9,454.1 1579.4,458.1C1579.9,462.1 1580.3,466.1 1580.8,470.1C1581.3,474.0 1581.8,478.0 1582.3,482.0C1582.7,486.0 1583.2,490.0 1583.6,494.0C1584.1,497.9 1584.5,501.9 1585.0,505.9C1585.4,509.9 1585.9,513.9 1586.3,517.9C1586.7,521.8 1587.1,525.8 1587.5,529.8C1587.9,533.8 1588.3,537.8 1588.7,541.8C1589.1,545.7 1589.5,549.7 1589.9,553.7C1590.3,557.7 1590.7,561.7 1591.1,565.7C1591.5,569.6 1591.8,573.6 1592.2,577.6C1592.6,581.6 1593.0,585.6 1593.3,589.6C1593.7,593.5 1594.0,597.5 1594.4,601.5C1594.8,605.5 1595.1,609.5 1595.5,613.4C1595.8,617.4 1596.2,621.4 1596.5,625.4C1596.9,629.3 1597.3,633.3 1597.6,637.3C1598.0,641.3 1598.3,645.3 1598.7,649.2C1599.0,653.2 1599.4,657.2 1599.7,661.2C1600.1,665.1 1600.4,669.1 1600.8,673.1C1601.1,677.1 1601.5,681.0 1601.8,685.0C1602.2,689.0 1602.5,693.0 1602.9,696.9C1603.3,700.9 1603.6,704.9 1604.0,708.9C1604.4,712.8 1604.7,716.8 1605.1,720.8C1605.5,724.7 1605.9,728.7 1606.2,732.7C1606.6,736.7 1607.0,740.6 1607.4,744.6C1607.8,748.6 1608.2,752.5 1608.6,756.5C1609.0,760.5 1609.4,764.4 1609.8,768.4C1610.2,772.4 1610.6,776.3 1611.1,780.3C1611.5,784.2 1611.9,788.2 1612.4,792.2C1612.8,796.1 1613.2,800.1 1613.7,804.1C1614.1,808.0 1614.6,812.0 1615.0,815.9C1615.5,819.9 1615.9,823.9 1616.4,827.8C1616.9,831.8 1617.3,835.7 1617.8,839.7C1618.3,843.6 1618.7,847.6 1619.2,851.6C1619.7,855.5 1620.1,859.5 1620.6,863.4C1621.1,867.4 1621.6,871.3 1622.0,875.3C1622.5,879.2 1623.0,883.2 1623.5,887.2C1624.0,891.1 1624.4,895.1 1624.9,899.0C1625.4,903.0 1625.9,906.9 1626.4,910.9C1626.8,914.8 1627.3,918.8 1627.8,922.7C1628.3,926.7 1628.8,930.6 1629.2,934.6C1629.7,938.5 1630.2,942.5 1630.7,946.4C1631.2,950.4 1631.7,954.3 1632.3,958.3C1632.8,962.2 1633.3,966.2 1633.9,970.1C1634.4,974.1 1635.0,978.1 1635.6,982.0C1636.2,986.0 1636.8,989.9 1637.5,993.9C1638.1,997.8 1638.8,1001.8 1639.5,1005.7C1640.2,1009.7 1640.9,1013.6 1641.7,1017.6C1642.4,1021.5 1643.2,1025.5 1644.1,1029.4C1644.9,1033.4 1645.7,1037.3 1646.6,1041.3C1647.4,1045.2 1648.3,1049.2 1649.1,1053.1C1650.0,1057.1 1650.8,1061.0 1651.7,1065.0C1652.5,1068.9 1653.4,1072.9 1654.2,1076.8C1655.0,1080.8 1655.9,1085.7 1656.5,1088.7C1657.1,1091.7 1657.2,1092.6 1657.6,1094.6C1657.9,1096.6 1658.3,1098.6 1658.6,1100.5C1659.0,1102.5 1659.3,1104.5 1659.7,1106.5C1660.0,1108.4 1660.4,1110.4 1660.7,1112.4C1661.0,1114.3 1661.4,1116.3 1661.7,1118.3C1662.1,1120.3 1662.4,1122.2 1662.8,1124.2C1663.2,1126.1 1663.5,1128.1 1663.9,1130.1C1664.3,1132.0 1664.6,1134.0 1665.0,1135.9C1665.4,1137.9 1665.8,1139.8 1666.2,1141.8C1666.6,1143.7 1667.1,1145.6 1667.5,1147.6C1668.0,1149.5 1668.4,1151.5 1668.9,1153.4C1669.4,1155.3 1669.9,1157.2 1670.4,1159.2C1670.9,1161.1 1671.4,1163.0 1672.0,1164.9C1672.6,1166.8 1673.1,1168.7 1673.8,1170.6C1674.4,1172.5 1675.0,1174.4 1675.7,1176.2C1676.3,1178.1 1677.0,1180.0 1677.8,1181.8C1678.5,1183.7 1679.3,1185.5 1680.1,1187.3C1680.9,1189.2 1681.7,1191.0 1682.6,1192.8C1683.5,1194.6 1684.4,1196.4 1685.4,1198.2C1686.4,1199.9 1687.4,1201.7 1688.4,1203.4C1689.5,1205.2 1690.5,1206.9 1691.6,1208.6C1692.8,1210.3 1693.9,1212.0 1695.0,1213.7C1696.2,1215.4 1697.4,1217.0 1698.5,1218.6C1699.7,1220.3 1700.9,1221.9 1702.1,1223.5C1703.3,1225.0 1704.5,1226.6 1705.8,1228.1C1707.0,1229.6 1708.3,1231.1 1709.7,1232.6C1711.0,1234.0 1712.4,1235.4 1713.9,1236.7C1715.4,1238.0 1716.9,1239.3 1718.5,1240.4C1720.2,1241.6 1721.9,1242.7 1723.7,1243.7C1725.4,1244.8 1727.2,1245.7 1729.0,1246.5C1730.8,1247.4 1732.6,1248.1 1734.4,1248.9C1736.2,1249.7 1738.0,1250.3 1739.9,1251.1C1741.7,1251.8 1743.5,1252.5 1745.4,1253.3C1747.3,1254.1 1749.2,1254.9 1751.1,1255.7C1753.0,1256.5 1754.9,1257.4 1756.8,1258.2C1758.7,1258.9 1760.7,1259.6 1762.6,1260.1C1764.5,1260.7 1766.5,1261.0 1768.4,1261.3C1770.4,1261.5 1772.3,1261.6 1774.3,1261.7C1776.2,1261.8 1778.2,1261.8 1780.1,1261.8C1782.1,1261.8 1784.1,1261.7 1786.0,1261.7C1788.0,1261.7 1790.0,1261.7 1791.9,1261.8C1793.9,1261.9 1795.9,1262.1 1797.8,1262.3C1799.8,1262.5 1801.8,1262.9 1803.8,1263.3C1805.8,1263.7 1807.7,1264.2 1809.7,1264.7C1811.7,1265.1 1813.7,1265.6 1815.7,1266.1C1817.7,1266.5 1819.6,1266.9 1821.6,1267.2C1823.6,1267.5 1825.6,1267.8 1827.6,1268.0C1829.6,1268.2 1831.6,1268.3 1833.6,1268.4C1835.5,1268.5 1837.5,1268.6 1839.5,1268.6C1841.5,1268.7 1843.5,1268.7 1845.5,1268.7C1847.5,1268.7 1849.5,1268.7 1851.5,1268.7C1853.5,1268.7 1855.5,1268.7 1857.5,1268.7C1859.5,1268.7 1861.5,1268.7 1863.4,1268.7C1865.4,1268.8 1867.4,1268.8 1869.4,1268.9C1871.4,1268.9 1873.4,1269.0 1875.4,1269.1C1877.4,1269.2 1879.4,1269.3 1881.4,1269.4C1883.4,1269.5 1885.4,1269.6 1887.4,1269.7C1889.4,1269.8 1891.4,1269.9 1893.4,1270.0C1895.4,1270.1 1897.4,1270.2 1899.4,1270.3C1901.4,1270.4 1903.4,1270.5 1905.4,1270.6C1907.4,1270.7 1909.4,1270.8 1911.4,1270.9C1913.4,1271.0 1915.4,1271.1 1917.4,1271.1C1919.4,1271.2 1921.4,1271.3 1923.4,1271.4C1925.4,1271.5 1927.4,1271.6 1929.4,1271.6C1931.4,1271.7 1933.4,1271.8 1935.4,1271.8C1937.4,1271.9 1939.4,1272.0 1941.4,1272.0C1943.4,1272.1 1945.4,1272.1 1947.4,1272.2C1949.4,1272.2 1951.3,1272.2 1953.3,1272.3C1955.3,1272.3 1957.3,1272.3 1959.3,1272.3C1961.3,1272.4 1963.3,1272.4 1965.3,1272.4C1967.3,1272.4 1969.3,1272.4 1971.3,1272.4C1973.3,1272.4 1975.3,1272.4 1977.3,1272.4C1979.3,1272.5 1981.3,1272.5 1983.3,1272.6C1985.2,1272.6 1987.2,1272.7 1989.2,1272.8C1991.2,1272.9 1993.2,1273.0 1995.2,1273.1C1997.2,1273.3 1999.2,1273.5 2001.2,1273.8C2003.1,1274.1 2005.7,1274.7 2007.1,1275.0C2008.5,1275.3 2009.3,1275.6 2009.7,1275.7" stroke="#0000FF" stroke-width="7.4"/>
<path d="M283.8,1213.2C284.8,1213.3 287.8,1213.6 289.8,1213.8C291.8,1214.0 293.8,1214.2 295.8,1214.4C297.8,1214.5 299.9,1214.7 301.9,1214.8C303.9,1214.9 305.9,1215.1 307.8,1215.2C309.8,1215.3 311.8,1215.4 313.8,1215.5C315.8,1215.5 317.8,1215.6 319.8,1215.6C321.8,1215.7 323.8,1215.7 325.8,1215.8C327.8,1215.8 329.8,1215.8 331.7,1215.8C333.7,1215.8 335.7,1215.7 337.7,1215.7C339.7,1215.7 341.7,1215.6 343.6,1215.6C345.6,1215.5 347.6,1215.4 349.6,1215.3C351.5,1215.2 353.5,1215.1 355.5,1214.9C357.5,1214.8 359.4,1214.6 361.4,1214.4C363.4,1214.2 365.4,1214.0 367.3,1213.9C369.3,1213.8 371.3,1213.8 373.2,1214.0C375.2,1214.3 377.2,1214.9 379.1,1215.5C381.1,1216.1 383.1,1216.9 385.0,1217.7C387.0,1218.4 389.0,1219.3 390.9,1219.9C392.9,1220.6 394.9,1221.2 396.8,1221.6C398.8,1222.0 400.7,1222.4 402.7,1222.6C404.7,1222.8 406.6,1222.9 408.6,1223.0C410.6,1223.1 412.5,1223.0 414.5,1222.9C416.4,1222.9 418.4,1222.7 420.4,1222.5C422.3,1222.3 424.3,1222.1 426.2,1221.9C428.2,1221.6 430.2,1221.4 432.1,1221.2C434.1,1221.1 436.0,1220.9 438.0,1221.0C440.0,1221.0 441.9,1221.2 443.9,1221.5C445.8,1221.8 447.8,1222.3 449.8,1222.7C451.7,1223.2 453.7,1223.8 455.6,1224.3C457.6,1224.9 459.6,1225.5 461.5,1226.0C463.5,1226.5 465.4,1227.1 467.4,1227.5C469.4,1227.9 471.3,1228.2 473.3,1228.4C475.3,1228.6 477.2,1228.6 479.2,1228.5C481.2,1228.4 483.1,1228.1 485.1,1227.8C487.1,1227.4 489.0,1226.9 491.0,1226.4C493.0,1225.9 494.9,1225.2 496.9,1224.7C498.9,1224.2 500.8,1223.6 502.8,1223.2C504.8,1222.9 506.8,1222.6 508.7,1222.7C510.7,1222.7 512.7,1223.1 514.6,1223.6C516.6,1224.1 518.6,1224.8 520.6,1225.4C522.5,1226.0 524.5,1226.7 526.5,1227.1C528.5,1227.5 530.5,1227.7 532.4,1227.6C534.4,1227.6 536.4,1227.3 538.4,1227.0C540.3,1226.7 542.3,1226.3 544.3,1225.9C546.3,1225.6 548.3,1225.3 550.3,1225.1C552.2,1224.9 554.2,1224.7 556.2,1224.6C558.2,1224.5 560.2,1224.5 562.1,1224.6C564.1,1224.6 566.1,1224.7 568.1,1224.8C570.1,1224.9 572.1,1225.1 574.1,1225.3C576.0,1225.5 578.0,1225.7 580.0,1226.0C582.0,1226.2 584.0,1226.5 586.0,1226.8C587.9,1227.1 589.9,1227.5 591.9,1227.8C593.9,1228.1 595.9,1228.4 597.9,1228.6C599.9,1228.8 601.9,1229.0 603.8,1229.0C605.8,1229.0 607.8,1229.0 609.8,1228.7C611.8,1228.5 613.8,1228.0 615.8,1227.5C617.8,1227.1 619.7,1226.5 621.7,1226.0C623.7,1225.5 625.7,1224.9 627.7,1224.6C629.7,1224.2 631.7,1223.9 633.7,1223.7C635.7,1223.5 637.6,1223.4 639.6,1223.3C641.6,1223.3 643.6,1223.3 645.6,1223.3C647.6,1223.4 649.6,1223.5 651.6,1223.6C653.5,1223.7 655.5,1223.8 657.5,1223.9C659.5,1224.0 661.5,1224.1 663.5,1224.2C665.5,1224.3 667.5,1224.3 669.4,1224.3C671.4,1224.3 673.4,1224.3 675.4,1224.3C677.4,1224.3 679.4,1224.3 681.4,1224.2C683.4,1224.2 685.3,1224.1 687.3,1224.1C689.3,1224.0 691.3,1223.9 693.3,1223.9C695.3,1223.8 697.2,1223.7 699.2,1223.6C701.2,1223.6 703.2,1223.5 705.2,1223.4C707.2,1223.4 709.1,1223.3 711.1,1223.3C713.1,1223.4 715.1,1223.4 717.1,1223.5C719.1,1223.7 721.0,1223.9 723.0,1224.2C725.0,1224.5 727.0,1225.0 729.0,1225.3C730.9,1225.5 732.9,1225.9 734.9,1225.8C736.9,1225.8 738.8,1225.6 740.8,1225.2C742.8,1224.8 744.8,1224.1 746.7,1223.6C748.7,1223.1 750.7,1222.4 752.7,1222.0C754.6,1221.6 756.6,1221.3 758.6,1221.0C760.5,1220.7 762.5,1220.6 764.5,1220.2C766.4,1219.8 768.4,1219.1 770.4,1218.6C772.3,1218.1 774.3,1217.3 776.3,1217.2C778.2,1217.1 780.2,1217.5 782.2,1218.0C784.1,1218.5 786.1,1219.5 788.0,1220.1C790.0,1220.7 792.0,1221.3 793.9,1221.4C795.9,1221.4 797.8,1220.9 799.8,1220.5C801.7,1220.1 803.7,1219.2 805.6,1218.8C807.6,1218.4 809.5,1218.0 811.5,1217.9C813.4,1217.8 815.4,1218.0 817.3,1218.2C819.3,1218.3 821.2,1218.7 823.2,1218.8C825.1,1218.9 827.1,1219.0 829.0,1218.9C831.0,1218.7 832.9,1218.4 834.8,1218.1C836.8,1217.7 838.7,1217.2 840.7,1216.7C842.6,1216.2 844.6,1215.6 846.5,1215.1C848.5,1214.5 850.4,1213.9 852.4,1213.3C854.3,1212.7 856.2,1212.1 858.2,1211.6C860.1,1211.0 862.1,1210.5 864.0,1209.9C866.0,1209.4 867.9,1208.9 869.9,1208.4C871.8,1208.0 873.8,1207.5 875.7,1207.2C877.7,1206.8 879.6,1206.5 881.6,1206.2C883.6,1205.9 885.5,1205.7 887.5,1205.4C889.4,1205.1 891.4,1204.9 893.3,1204.6C895.3,1204.2 897.3,1203.9 899.2,1203.4C901.2,1202.9 903.2,1202.4 905.1,1201.8C907.0,1201.2 908.9,1200.5 910.7,1199.7C912.6,1198.9 914.4,1198.0 916.2,1197.0C917.9,1196.0 919.6,1194.9 921.2,1193.7C922.8,1192.5 924.3,1191.2 925.8,1189.8C927.2,1188.4 928.5,1186.9 929.8,1185.4C931.1,1183.8 932.3,1182.2 933.5,1180.5C934.7,1178.9 935.9,1177.3 937.1,1175.6C938.3,1174.0 939.4,1172.4 940.6,1170.8C941.8,1169.2 943.0,1167.6 944.2,1166.0C945.4,1164.5 946.6,1162.9 947.8,1161.4C949.0,1159.8 950.3,1158.3 951.5,1156.7C952.8,1155.2 954.1,1153.7 955.4,1152.2C956.7,1150.7 958.0,1149.2 959.3,1147.7C960.7,1146.2 962.1,1144.7 963.4,1143.3C964.8,1141.8 966.3,1140.4 967.7,1138.9C969.1,1137.5 970.6,1136.0 972.0,1134.6C973.5,1133.2 974.9,1131.7 976.4,1130.3C977.8,1128.9 979.2,1127.5 980.6,1126.1C982.0,1124.6 983.4,1123.2 984.8,1121.8C986.2,1120.4 987.5,1119.0 988.9,1117.5C990.2,1116.1 991.6,1114.7 992.9,1113.3C994.2,1111.9 995.5,1110.4 996.9,1109.0C998.2,1107.6 999.5,1106.1 1000.9,1104.7C1002.2,1103.3 1003.5,1101.8 1004.9,1100.4C1006.2,1098.9 1007.6,1097.4 1009.0,1096.0C1010.3,1094.5 1011.7,1093.0 1013.1,1091.5C1014.6,1090.0 1016.0,1088.5 1017.5,1087.0C1018.9,1085.6 1020.4,1084.1 1021.9,1082.7C1023.4,1081.2 1025.0,1079.8 1026.6,1078.5C1028.1,1077.3 1029.8,1076.0 1031.4,1074.9C1033.1,1073.8 1034.8,1072.8 1036.5,1072.0C1038.3,1071.2 1040.1,1070.5 1041.9,1069.9C1043.8,1069.4 1045.7,1069.1 1047.6,1068.8C1049.5,1068.6 1051.5,1068.5 1053.4,1068.5C1055.4,1068.5 1057.4,1068.6 1059.4,1068.8C1061.4,1069.0 1063.4,1069.4 1065.5,1069.7C1067.5,1070.1 1069.5,1070.6 1071.5,1071.0C1073.5,1071.4 1075.5,1072.0 1077.5,1072.3C1079.4,1072.6 1081.4,1072.8 1083.3,1072.8C1085.2,1072.8 1087.1,1072.6 1089.0,1072.2C1090.9,1071.7 1092.7,1071.1 1094.5,1070.2C1096.4,1069.4 1098.2,1068.2 1100.0,1067.2C1101.9,1066.1 1103.7,1064.8 1105.5,1063.9C1107.4,1063.0 1109.2,1062.1 1111.1,1061.6C1112.9,1061.1 1114.8,1061.0 1116.8,1060.9C1118.7,1060.8 1120.7,1061.0 1122.7,1061.1C1124.7,1061.3 1126.7,1061.6 1128.8,1061.7C1130.8,1061.9 1132.9,1062.1 1134.9,1062.1C1136.9,1062.2 1138.9,1062.1 1140.8,1061.8C1142.7,1061.4 1144.6,1061.0 1146.4,1060.1C1148.1,1059.2 1149.8,1057.9 1151.3,1056.5C1152.9,1055.2 1154.4,1053.3 1155.9,1051.8C1157.4,1050.2 1158.8,1048.5 1160.4,1047.3C1161.9,1046.1 1163.5,1045.0 1165.2,1044.5C1166.9,1044.0 1168.7,1044.2 1170.5,1044.2C1172.4,1044.2 1174.4,1044.6 1176.4,1044.5C1178.3,1044.4 1180.4,1044.0 1182.4,1043.6C1184.4,1043.1 1186.5,1042.3 1188.5,1041.7C1190.5,1041.1 1192.4,1040.5 1194.3,1040.0C1196.3,1039.5 1198.1,1039.2 1199.9,1038.7C1201.8,1038.2 1203.5,1037.7 1205.3,1036.9C1207.1,1036.0 1208.9,1034.8 1210.7,1033.7C1212.4,1032.5 1214.2,1031.1 1216.0,1030.1C1217.8,1029.1 1219.6,1028.2 1221.4,1027.6C1223.3,1027.1 1225.1,1027.0 1227.0,1026.7C1228.8,1026.5 1230.7,1026.5 1232.6,1026.1C1234.5,1025.7 1236.5,1025.0 1238.4,1024.3C1240.4,1023.6 1242.4,1022.6 1244.2,1021.8C1246.1,1021.0 1247.8,1020.3 1249.5,1019.6C1251.2,1018.9 1252.8,1018.5 1254.4,1017.7C1255.9,1016.9 1257.4,1016.2 1258.8,1015.0C1260.2,1013.8 1261.6,1012.2 1263.0,1010.6C1264.4,1008.9 1265.8,1006.9 1267.2,1005.2C1268.6,1003.5 1270.0,1001.8 1271.4,1000.2C1272.8,998.7 1274.2,997.3 1275.7,996.0C1277.1,994.6 1278.6,993.4 1280.1,992.3C1281.5,991.1 1283.0,990.0 1284.5,988.9C1286.0,987.8 1287.5,986.7 1288.9,985.6C1290.4,984.5 1291.9,983.4 1293.4,982.2C1294.8,981.1 1296.3,979.8 1297.8,978.5C1299.2,977.2 1300.7,975.8 1302.1,974.4C1303.5,972.9 1304.9,971.4 1306.3,969.9C1307.7,968.3 1309.1,966.7 1310.4,965.1C1311.8,963.4 1313.1,961.7 1314.4,960.1C1315.6,958.4 1316.9,956.6 1318.1,954.9C1319.3,953.2 1320.5,951.5 1321.6,949.7C1322.7,948.0 1323.8,946.3 1324.9,944.6C1325.9,942.8 1326.9,941.1 1327.9,939.4C1328.9,937.7 1329.9,936.0 1330.8,934.3C1331.7,932.6 1332.6,930.8 1333.5,929.1C1334.4,927.4 1335.3,925.7 1336.2,924.0C1337.1,922.3 1337.9,920.6 1338.8,918.9C1339.6,917.2 1340.5,915.5 1341.3,913.8C1342.2,912.0 1343.0,910.3 1343.9,908.6C1344.7,906.9 1345.6,905.2 1346.5,903.5C1347.3,901.8 1348.2,900.1 1349.1,898.4C1350.0,896.7 1351.0,894.9 1351.9,893.2C1352.9,891.5 1353.3,890.7 1354.8,888.1C1356.4,885.5 1359.0,881.2 1361.1,877.7C1363.3,874.2 1365.6,870.8 1367.8,867.3C1370.0,863.8 1372.3,860.3 1374.5,856.7C1376.6,853.2 1378.8,849.7 1380.8,846.1C1382.8,842.5 1384.8,838.9 1386.5,835.3C1388.3,831.7 1389.9,828.0 1391.4,824.4C1392.9,820.7 1394.3,817.0 1395.5,813.3C1396.8,809.6 1397.9,805.8 1399.0,802.1C1400.0,798.3 1401.0,794.5 1401.9,790.7C1402.9,787.0 1403.7,783.1 1404.6,779.3C1405.4,775.5 1406.2,771.6 1407.0,767.8C1407.8,763.9 1408.6,760.0 1409.3,756.1C1410.1,752.2 1410.9,748.3 1411.6,744.4C1412.4,740.5 1413.1,736.6 1413.9,732.7C1414.6,728.7 1415.3,724.8 1416.0,720.8C1416.8,716.9 1417.5,712.9 1418.2,709.0C1418.9,705.0 1419.6,701.1 1420.3,697.1C1421.0,693.1 1421.7,689.2 1422.4,685.2C1423.1,681.2 1423.7,677.3 1424.4,673.3C1425.1,669.3 1425.8,665.4 1426.5,661.4C1427.1,657.4 1427.8,653.5 1428.5,649.5C1429.2,645.6 1429.8,641.6 1430.5,637.7C1431.2,633.7 1431.8,629.7 1432.5,625.8C1433.2,621.8 1433.8,617.9 1434.5,614.0C1435.2,610.0 1435.8,606.1 1436.5,602.1C1437.2,598.2 1437.8,594.2 1438.5,590.3C1439.1,586.4 1439.8,582.4 1440.5,578.5C1441.1,574.6 1441.8,570.6 1442.4,566.7C1443.1,562.8 1443.7,558.8 1444.4,554.9C1445.0,551.0 1445.7,547.0 1446.3,543.1C1447.0,539.2 1447.6,535.2 1448.3,531.3C1448.9,527.4 1449.5,523.5 1450.2,519.5C1450.8,515.6 1451.5,511.7 1452.1,507.8C1452.7,503.9 1453.4,499.9 1454.0,496.0C1454.7,492.1 1455.3,488.2 1455.9,484.2C1456.6,480.3 1457.2,476.4 1457.8,472.5C1458.5,468.6 1459.1,464.6 1459.7,460.7C1460.4,456.8 1461.0,452.9 1461.6,449.0C1462.2,445.0 1462.9,441.1 1463.5,437.2C1464.1,433.3 1464.8,429.3 1465.4,425.4C1466.0,421.5 1466.6,417.6 1467.3,413.7C1467.9,409.7 1468.5,405.8 1469.1,401.9C1469.8,398.0 1470.4,394.0 1471.0,390.1C1471.6,386.2 1472.2,382.3 1472.9,378.3C1473.5,374.4 1474.1,370.5 1474.7,366.6C1475.4,362.6 1476.0,358.7 1476.6,354.8C1477.2,350.8 1477.9,346.9 1478.5,343.0C1479.1,339.1 1479.8,335.1 1480.4,331.2C1481.0,327.3 1481.6,323.3 1482.3,319.4C1482.9,315.5 1483.6,311.5 1484.2,307.6C1484.8,303.7 1485.5,299.7 1486.1,295.8C1486.8,291.9 1487.4,287.9 1488.1,284.0C1488.7,280.1 1489.4,276.1 1490.0,272.2C1490.7,268.3 1491.4,264.3 1492.0,260.4C1492.7,256.5 1493.4,252.5 1494.0,248.6C1494.7,244.6 1495.4,240.7 1496.1,236.8C1496.8,232.8 1497.4,228.9 1498.1,225.0C1498.8,221.0 1499.5,217.1 1500.2,213.1C1500.9,209.2 1501.6,205.3 1502.4,201.3C1503.2,197.4 1504.2,192.2 1504.8,189.6C1505.3,186.9 1505.3,186.9 1505.6,185.6C1505.9,184.3 1506.2,183.0 1506.5,181.7C1506.8,180.4 1507.1,179.1 1507.4,177.8C1507.7,176.5 1508.1,175.2 1508.4,174.0C1508.7,172.7 1509.1,171.4 1509.4,170.1C1509.8,168.8 1510.1,167.5 1510.5,166.2C1510.9,164.9 1511.2,163.6 1511.6,162.4C1512.1,161.1 1512.5,159.8 1512.9,158.6C1513.4,157.3 1513.9,156.0 1514.4,154.8C1515.0,153.6 1515.6,152.4 1516.3,151.2C1517.0,150.0 1517.8,148.8 1518.6,147.8C1519.5,146.8 1520.5,145.8 1521.6,145.3C1522.6,144.8 1523.9,144.6 1525.0,144.7C1526.2,144.8 1527.4,145.3 1528.5,145.9C1529.6,146.5 1530.7,147.4 1531.6,148.4C1532.5,149.4 1533.4,150.6 1534.1,151.8C1534.9,152.9 1535.6,154.2 1536.2,155.5C1536.8,156.7 1537.4,158.0 1537.9,159.2C1538.5,160.5 1539.0,161.8 1539.4,163.0C1539.8,164.3 1540.2,165.6 1540.6,166.9C1541.0,168.1 1541.3,169.4 1541.6,170.7C1541.9,172.0 1542.0,172.0 1542.5,174.6C1543.0,177.2 1544.0,182.4 1544.7,186.3C1545.4,190.2 1546.1,194.1 1546.8,198.0C1547.5,201.9 1548.1,205.8 1548.8,209.7C1549.5,213.6 1550.1,217.6 1550.8,221.5C1551.4,225.4 1552.0,229.3 1552.7,233.3C1553.3,237.2 1553.9,241.1 1554.5,245.1C1555.1,249.0 1555.7,253.0 1556.3,256.9C1556.9,260.9 1557.5,264.8 1558.0,268.8C1558.6,272.7 1559.2,276.7 1559.7,280.6C1560.3,284.6 1560.8,288.5 1561.4,292.5C1561.9,296.5 1562.4,300.4 1563.0,304.4C1563.5,308.4 1564.0,312.3 1564.5,316.3C1565.0,320.3 1565.5,324.3 1566.0,328.3C1566.5,332.2 1567.0,336.2 1567.5,340.2C1568.0,344.2 1568.4,348.2 1568.9,352.1C1569.4,356.1 1569.8,360.1 1570.3,364.1C1570.7,368.1 1571.2,372.1 1571.6,376.1C1572.1,380.1 1572.5,384.1 1572.9,388.1C1573.4,392.0 1573.8,396.0 1574.2,400.0C1574.6,404.0 1575.0,408.0 1575.4,412.0C1575.9,416.0 1576.3,420.0 1576.7,424.0C1577.1,428.0 1577.5,432.0 1577.8,436.0C1578.2,440.0 1578.6,444.0 1579.0,448.0C1579.4,452.0 1579.8,456.0 1580.1,460.0C1580.5,464.0 1580.9,468.0 1581.2,472.0C1581.6,476.0 1582.0,480.0 1582.3,484.0C1582.7,488.0 1583.0,491.9 1583.4,495.9C1583.7,499.9 1584.1,503.9 1584.4,507.9C1584.8,511.9 1585.1,515.9 1585.4,519.9C1585.8,523.9 1586.1,527.9 1586.5,531.8C1586.8,535.8 1587.1,539.8 1587.5,543.8C1587.8,547.8 1588.1,551.8 1588.4,555.7C1588.8,559.7 1589.1,563.7 1589.4,567.7C1589.7,571.7 1590.1,575.6 1590.4,579.6C1590.7,583.6 1591.0,587.6 1591.3,591.5C1591.7,595.5 1592.0,599.5 1592.3,603.5C1592.6,607.4 1592.9,611.4 1593.3,615.4C1593.6,619.4 1593.9,623.3 1594.2,627.3C1594.5,631.3 1594.8,635.2 1595.1,639.2C1595.5,643.2 1595.8,647.2 1596.1,651.1C1596.4,655.1 1596.7,659.1 1597.1,663.0C1597.4,667.0 1597.7,671.0 1598.0,675.0C1598.3,678.9 1598.6,682.9 1599.0,686.9C1599.3,690.8 1599.6,694.8 1599.9,698.8C1600.3,702.8 1600.6,706.7 1600.9,710.7C1601.3,714.7 1601.6,718.7 1601.9,722.6C1602.3,726.6 1602.6,730.6 1602.9,734.6C1603.3,738.5 1603.6,742.5 1604.0,746.5C1604.3,750.5 1604.6,754.5 1605.0,758.4C1605.3,762.4 1605.7,766.4 1606.0,770.4C1606.4,774.4 1606.8,778.3 1607.1,782.3C1607.5,786.3 1607.9,790.3 1608.2,794.3C1608.6,798.3 1609.0,802.3 1609.3,806.3C1609.7,810.2 1610.1,814.2 1610.5,818.2C1610.9,822.2 1611.3,826.2 1611.7,830.2C1612.1,834.2 1612.5,838.2 1612.9,842.2C1613.3,846.2 1613.7,850.2 1614.1,854.2C1614.5,858.2 1614.9,862.2 1615.4,866.2C1615.8,870.2 1616.2,874.2 1616.7,878.2C1617.1,882.2 1617.5,886.3 1618.0,890.3C1618.4,894.3 1618.9,898.3 1619.4,902.3C1619.8,906.3 1620.3,910.3 1620.8,914.3C1621.3,918.3 1621.7,922.2 1622.2,926.2C1622.7,930.2 1623.2,934.2 1623.7,938.2C1624.2,942.2 1624.7,946.2 1625.2,950.1C1625.8,954.1 1626.3,958.1 1626.8,962.1C1627.4,966.0 1627.9,970.0 1628.4,974.0C1629.0,977.9 1629.6,981.9 1630.1,985.8C1630.7,989.8 1631.3,993.7 1631.8,997.6C1632.4,1001.6 1633.0,1005.5 1633.6,1009.4C1634.2,1013.4 1634.8,1017.3 1635.4,1021.2C1636.1,1025.1 1636.7,1029.0 1637.3,1032.9C1638.0,1036.8 1638.6,1040.8 1639.3,1044.7C1639.9,1048.6 1640.6,1052.5 1641.3,1056.4C1641.9,1060.3 1642.6,1064.2 1643.3,1068.1C1644.0,1072.0 1644.9,1076.8 1645.4,1079.8C1646.0,1082.7 1646.1,1083.7 1646.5,1085.6C1646.9,1087.6 1647.2,1089.5 1647.6,1091.5C1648.0,1093.4 1648.3,1095.4 1648.7,1097.3C1649.1,1099.3 1649.5,1101.2 1649.8,1103.2C1650.2,1105.1 1650.6,1107.1 1651.0,1109.0C1651.4,1111.0 1651.8,1112.9 1652.2,1114.9C1652.5,1116.8 1652.9,1118.8 1653.3,1120.7C1653.7,1122.7 1654.1,1124.6 1654.5,1126.6C1654.9,1128.5 1655.3,1130.5 1655.7,1132.5C1656.2,1134.4 1656.6,1136.4 1657.0,1138.3C1657.4,1140.3 1657.8,1142.2 1658.2,1144.2C1658.7,1146.2 1659.1,1148.1 1659.5,1150.1C1660.0,1152.0 1660.4,1154.0 1660.8,1155.9C1661.3,1157.9 1661.8,1159.8 1662.2,1161.8C1662.7,1163.7 1663.2,1165.6 1663.7,1167.6C1664.2,1169.5 1664.7,1171.4 1665.2,1173.3C1665.7,1175.2 1666.3,1177.1 1666.8,1179.0C1667.4,1180.9 1668.0,1182.8 1668.6,1184.7C1669.2,1186.6 1669.8,1188.4 1670.5,1190.3C1671.2,1192.1 1671.9,1194.0 1672.6,1195.8C1673.3,1197.6 1674.1,1199.4 1674.9,1201.2C1675.8,1203.0 1676.6,1204.8 1677.5,1206.6C1678.4,1208.3 1679.4,1210.1 1680.4,1211.8C1681.4,1213.5 1682.5,1215.2 1683.6,1216.9C1684.7,1218.6 1685.9,1220.3 1687.1,1221.9C1688.3,1223.5 1689.5,1225.1 1690.8,1226.7C1692.1,1228.2 1693.5,1229.8 1694.8,1231.3C1696.2,1232.7 1697.6,1234.2 1699.1,1235.6C1700.5,1237.0 1702.0,1238.4 1703.6,1239.7C1705.1,1241.0 1706.7,1242.2 1708.3,1243.4C1709.9,1244.6 1711.5,1245.8 1713.2,1246.9C1714.8,1248.0 1716.5,1249.0 1718.3,1250.0C1720.0,1250.9 1721.8,1251.8 1723.5,1252.7C1725.3,1253.5 1727.1,1254.3 1729.0,1255.0C1730.8,1255.8 1732.6,1256.5 1734.5,1257.1C1736.4,1257.7 1738.3,1258.3 1740.2,1258.9C1742.1,1259.4 1744.0,1259.9 1746.0,1260.4C1747.9,1260.9 1749.9,1261.3 1751.8,1261.7C1753.8,1262.1 1755.8,1262.5 1757.7,1262.8C1759.7,1263.1 1761.7,1263.4 1763.7,1263.7C1765.7,1264.0 1767.7,1264.3 1769.7,1264.6C1771.7,1264.8 1773.7,1265.1 1775.7,1265.3C1777.7,1265.6 1779.7,1265.8 1781.7,1266.0C1783.7,1266.2 1785.7,1266.5 1787.7,1266.7C1789.7,1266.9 1791.7,1267.1 1793.7,1267.2C1795.7,1267.4 1797.7,1267.6 1799.7,1267.7C1801.7,1267.8 1803.7,1268.0 1805.7,1268.0C1807.7,1268.1 1809.7,1268.2 1811.6,1268.3C1813.6,1268.3 1815.6,1268.3 1817.6,1268.3C1819.6,1268.3 1821.6,1268.3 1823.6,1268.2C1825.6,1268.2 1827.5,1268.1 1829.5,1268.0C1831.5,1267.9 1833.5,1267.8 1835.5,1267.7C1837.5,1267.6 1839.5,1267.4 1841.5,1267.3C1843.4,1267.1 1845.4,1266.9 1847.4,1266.8C1849.4,1266.7 1851.4,1266.5 1853.4,1266.5C1855.4,1266.5 1857.4,1266.5 1859.3,1266.7C1861.3,1266.8 1863.3,1267.2 1865.3,1267.5C1867.3,1267.8 1869.3,1268.3 1871.3,1268.6C1873.3,1268.9 1875.3,1269.1 1877.3,1269.2C1879.3,1269.3 1881.2,1269.2 1883.2,1269.3C1885.2,1269.3 1887.2,1269.4 1889.2,1269.4C1891.2,1269.4 1893.2,1269.5 1895.2,1269.5C1897.2,1269.6 1899.2,1269.6 1901.2,1269.6C1903.2,1269.6 1905.2,1269.6 1907.2,1269.6C1909.1,1269.6 1911.1,1269.6 1913.1,1269.7C1915.1,1269.7 1917.1,1269.7 1919.1,1269.7C1921.1,1269.8 1923.1,1269.8 1925.1,1269.9C1927.1,1270.0 1929.1,1270.1 1931.1,1270.2C1933.1,1270.3 1935.1,1270.4 1937.1,1270.5C1939.1,1270.6 1941.1,1270.8 1943.1,1270.9C1945.1,1271.1 1947.0,1271.3 1949.0,1271.4C1951.0,1271.6 1953.0,1271.8 1955.0,1271.9C1957.0,1272.1 1959.0,1272.3 1961.0,1272.5C1963.0,1272.7 1965.0,1272.9 1967.0,1273.1C1969.0,1273.2 1971.0,1273.4 1973.0,1273.6C1975.0,1273.8 1977.0,1274.0 1979.0,1274.1C1981.0,1274.3 1983.0,1274.5 1985.0,1274.6C1987.0,1274.8 1988.9,1274.9 1990.9,1275.1C1992.9,1275.2 1994.9,1275.3 1996.9,1275.5C1998.9,1275.6 2000.9,1275.7 2002.9,1275.8C2004.9,1275.8 2007.9,1275.9 2008.9,1276.0" stroke="#00B050" stroke-width="7.4"/>
<path d="M283.8,1207.5C284.7,1207.4 287.6,1207.3 289.5,1206.9C291.4,1206.6 293.3,1205.9 295.2,1205.2C297.1,1204.5 299.0,1203.7 300.9,1202.8C302.8,1202.0 304.7,1201.1 306.6,1200.4C308.5,1199.6 310.4,1198.8 312.3,1198.2C314.2,1197.7 316.2,1197.2 318.1,1197.1C320.0,1196.9 321.9,1197.0 323.8,1197.3C325.8,1197.6 327.7,1198.2 329.6,1198.8C331.6,1199.4 333.5,1200.2 335.4,1201.0C337.4,1201.7 339.3,1202.5 341.2,1203.3C343.2,1204.0 345.1,1204.7 347.1,1205.3C349.0,1205.9 351.0,1206.5 352.9,1206.9C354.9,1207.3 356.8,1207.5 358.8,1207.6C360.7,1207.6 362.7,1207.4 364.6,1207.2C366.6,1206.9 368.5,1206.4 370.5,1206.0C372.4,1205.7 374.4,1205.2 376.4,1205.1C378.3,1204.9 380.3,1205.0 382.2,1205.1C384.2,1205.3 386.2,1205.6 388.1,1206.0C390.1,1206.3 392.1,1206.8 394.0,1207.3C396.0,1207.7 398.0,1208.3 400.0,1208.7C401.9,1209.1 403.9,1209.5 405.9,1209.8C407.8,1210.1 409.8,1210.2 411.8,1210.3C413.8,1210.4 415.7,1210.3 417.7,1210.3C419.7,1210.4 421.7,1210.3 423.6,1210.4C425.6,1210.5 427.6,1210.7 429.6,1211.0C431.5,1211.3 433.5,1211.8 435.5,1212.4C437.5,1212.9 439.4,1213.5 441.4,1214.0C443.4,1214.6 445.4,1215.1 447.4,1215.5C449.3,1215.8 451.3,1216.1 453.3,1216.1C455.3,1216.2 457.2,1216.0 459.2,1215.8C461.2,1215.6 463.2,1215.3 465.2,1215.0C467.1,1214.7 469.1,1214.3 471.1,1214.0C473.1,1213.7 475.0,1213.5 477.0,1213.3C479.0,1213.0 481.0,1212.9 482.9,1212.7C484.9,1212.5 486.9,1212.4 488.9,1212.2C490.8,1212.0 492.8,1211.9 494.8,1211.7C496.7,1211.5 498.7,1211.3 500.7,1211.1C502.7,1210.9 504.6,1210.7 506.6,1210.5C508.6,1210.3 510.5,1210.2 512.5,1210.1C514.5,1210.0 516.4,1209.9 518.4,1209.9C520.4,1209.8 522.3,1209.9 524.3,1210.0C526.3,1210.1 528.2,1210.2 530.2,1210.5C532.2,1210.7 534.1,1211.1 536.1,1211.5C538.0,1212.0 540.0,1212.5 542.0,1213.2C543.9,1213.8 545.9,1214.7 547.9,1215.5C549.8,1216.2 551.8,1217.1 553.7,1217.8C555.7,1218.4 557.7,1218.9 559.6,1219.1C561.6,1219.2 563.6,1219.0 565.5,1218.6C567.5,1218.3 569.5,1217.5 571.4,1216.8C573.4,1216.2 575.3,1215.3 577.3,1214.6C579.3,1213.9 581.2,1213.2 583.2,1212.7C585.2,1212.1 587.1,1211.7 589.1,1211.3C591.1,1210.9 593.0,1210.6 595.0,1210.3C597.0,1210.1 598.9,1209.9 600.9,1209.8C602.9,1209.6 604.8,1209.5 606.8,1209.5C608.8,1209.4 610.7,1209.4 612.7,1209.5C614.7,1209.5 616.6,1209.5 618.6,1209.6C620.6,1209.7 622.6,1209.8 624.5,1209.9C626.5,1210.0 628.5,1210.1 630.5,1210.2C632.4,1210.3 634.4,1210.4 636.4,1210.5C638.4,1210.6 640.3,1210.7 642.3,1210.7C644.3,1210.8 646.3,1210.8 648.2,1210.8C650.2,1210.8 652.2,1210.7 654.2,1210.7C656.1,1210.6 658.1,1210.5 660.1,1210.3C662.1,1210.1 664.1,1209.8 666.1,1209.6C668.0,1209.3 670.0,1208.9 672.0,1208.6C674.0,1208.2 676.0,1207.8 678.0,1207.4C679.9,1206.9 681.9,1206.5 683.9,1206.0C685.9,1205.6 687.9,1205.2 689.9,1204.7C691.9,1204.3 693.8,1203.9 695.8,1203.5C697.8,1203.1 699.8,1202.8 701.8,1202.4C703.8,1202.1 705.8,1201.9 707.8,1201.6C709.8,1201.4 711.8,1201.3 713.8,1201.2C715.7,1201.1 717.7,1201.1 719.7,1201.1C721.7,1201.1 723.7,1201.2 725.7,1201.3C727.7,1201.3 729.7,1201.4 731.7,1201.5C733.7,1201.6 735.7,1201.7 737.7,1201.7C739.7,1201.7 741.7,1201.8 743.7,1201.7C745.7,1201.7 747.6,1201.6 749.6,1201.4C751.6,1201.3 753.6,1201.0 755.6,1200.8C757.6,1200.6 759.6,1200.3 761.6,1200.1C763.5,1199.8 765.5,1199.6 767.5,1199.4C769.5,1199.3 771.5,1199.2 773.4,1199.0C775.4,1198.9 777.4,1198.8 779.3,1198.6C781.3,1198.5 783.3,1198.4 785.2,1198.1C787.2,1197.9 789.2,1197.7 791.1,1197.3C793.1,1197.0 795.0,1196.5 797.0,1196.0C798.9,1195.5 800.9,1195.0 802.8,1194.4C804.7,1193.9 806.7,1193.4 808.6,1192.9C810.5,1192.4 812.5,1192.1 814.4,1191.6C816.3,1191.1 818.2,1190.6 820.2,1189.9C822.1,1189.2 824.0,1188.2 825.9,1187.5C827.8,1186.7 829.7,1185.8 831.7,1185.5C833.6,1185.2 835.5,1185.5 837.4,1185.9C839.3,1186.3 841.2,1187.4 843.1,1188.1C845.1,1188.8 847.0,1189.7 848.9,1190.1C850.8,1190.4 852.8,1190.4 854.7,1190.2C856.6,1190.0 858.5,1189.4 860.3,1188.7C862.2,1188.0 864.0,1187.0 865.8,1186.0C867.6,1184.9 869.3,1183.7 871.0,1182.5C872.6,1181.3 874.2,1180.0 875.8,1178.7C877.4,1177.5 878.9,1176.1 880.4,1174.9C881.9,1173.6 883.3,1172.2 884.8,1170.9C886.3,1169.6 887.8,1168.4 889.4,1167.1C890.9,1165.8 892.4,1164.6 894.0,1163.3C895.5,1162.0 897.1,1160.8 898.6,1159.4C900.1,1158.1 901.6,1156.8 903.0,1155.5C904.5,1154.1 905.9,1152.7 907.3,1151.2C908.6,1149.8 909.9,1148.3 911.1,1146.7C912.3,1145.1 913.4,1143.4 914.4,1141.7C915.5,1139.9 916.4,1138.1 917.3,1136.2C918.2,1134.3 918.9,1132.4 919.8,1130.5C920.6,1128.6 921.3,1126.6 922.1,1124.7C922.9,1122.8 923.7,1121.0 924.5,1119.2C925.3,1117.3 926.2,1115.6 927.1,1113.8C927.9,1112.1 928.8,1110.3 929.8,1108.6C930.7,1106.9 931.6,1105.3 932.6,1103.6C933.6,1102.0 934.6,1100.3 935.7,1098.7C936.8,1097.1 937.8,1095.5 939.0,1093.9C940.1,1092.4 941.3,1090.8 942.5,1089.2C943.8,1087.7 945.0,1086.1 946.3,1084.5C947.6,1083.0 949.0,1081.4 950.3,1079.9C951.6,1078.3 953.0,1076.8 954.3,1075.2C955.7,1073.6 957.0,1072.1 958.4,1070.5C959.7,1068.9 961.0,1067.3 962.3,1065.7C963.6,1064.1 964.9,1062.5 966.2,1060.9C967.4,1059.3 968.7,1057.7 969.9,1056.1C971.1,1054.5 972.3,1052.8 973.4,1051.2C974.5,1049.6 975.6,1048.0 976.7,1046.3C977.7,1044.7 978.7,1043.1 979.7,1041.5C980.6,1039.8 981.5,1038.2 982.4,1036.6C983.3,1034.9 984.2,1033.3 985.2,1031.7C986.3,1030.0 987.4,1028.4 988.6,1026.8C989.8,1025.2 991.3,1023.6 992.6,1021.9C994.0,1020.3 995.4,1018.7 996.7,1017.0C998.0,1015.4 999.2,1013.7 1000.3,1012.1C1001.4,1010.4 1002.2,1008.7 1003.1,1007.0C1004.0,1005.3 1004.8,1003.6 1005.7,1001.8C1006.6,1000.1 1007.5,998.2 1008.6,996.5C1009.7,994.7 1010.9,992.8 1012.2,991.3C1013.6,989.7 1015.0,988.3 1016.6,987.3C1018.2,986.2 1019.9,985.7 1021.7,985.1C1023.5,984.4 1025.4,984.0 1027.4,983.3C1029.4,982.6 1031.6,981.4 1033.6,980.8C1035.6,980.2 1037.6,979.6 1039.4,979.9C1041.1,980.1 1042.7,981.2 1044.3,982.4C1045.8,983.5 1047.2,985.2 1048.7,986.6C1050.2,988.0 1051.7,989.7 1053.3,990.7C1055.0,991.8 1056.8,992.3 1058.6,992.8C1060.4,993.3 1062.5,993.3 1064.3,993.7C1066.2,994.2 1068.0,994.7 1069.8,995.5C1071.5,996.4 1073.1,997.6 1074.8,998.9C1076.4,1000.1 1078.0,1001.6 1079.6,1002.8C1081.3,1004.0 1082.9,1005.3 1084.6,1006.3C1086.4,1007.2 1088.3,1007.9 1090.2,1008.3C1092.1,1008.7 1094.2,1008.7 1096.3,1008.6C1098.3,1008.5 1100.5,1008.2 1102.6,1007.9C1104.6,1007.6 1106.7,1007.0 1108.8,1006.7C1110.8,1006.4 1112.8,1006.0 1114.7,1006.0C1116.6,1006.0 1118.5,1006.0 1120.3,1006.6C1122.1,1007.1 1123.8,1008.1 1125.4,1009.3C1127.0,1010.5 1128.5,1012.2 1129.8,1013.8C1131.2,1015.4 1132.4,1017.2 1133.6,1018.9C1134.8,1020.6 1135.8,1022.3 1137.0,1023.8C1138.3,1025.3 1139.5,1026.8 1141.1,1028.1C1142.6,1029.3 1144.4,1030.4 1146.2,1031.3C1148.0,1032.1 1150.1,1032.8 1152.1,1033.2C1154.0,1033.5 1156.1,1033.7 1158.1,1033.5C1160.0,1033.2 1161.9,1032.7 1163.6,1031.8C1165.2,1031.0 1166.6,1029.6 1168.1,1028.2C1169.5,1026.8 1170.7,1025.0 1172.1,1023.3C1173.5,1021.7 1175.0,1019.6 1176.6,1018.3C1178.2,1017.1 1179.9,1016.1 1181.6,1015.8C1183.4,1015.6 1185.2,1016.4 1187.1,1016.8C1189.0,1017.2 1191.0,1018.1 1192.9,1018.2C1194.9,1018.3 1196.9,1017.9 1198.9,1017.6C1200.9,1017.4 1202.9,1016.7 1204.9,1016.6C1206.9,1016.6 1208.9,1016.9 1210.9,1017.4C1212.8,1017.9 1214.8,1019.2 1216.7,1019.6C1218.6,1020.1 1220.6,1020.5 1222.5,1020.2C1224.4,1019.9 1226.2,1018.6 1228.1,1017.7C1230.0,1016.7 1231.9,1015.2 1233.7,1014.4C1235.6,1013.7 1237.4,1013.4 1239.2,1013.1C1241.0,1012.8 1242.9,1013.1 1244.7,1012.9C1246.5,1012.6 1248.3,1012.1 1250.0,1011.4C1251.8,1010.6 1253.5,1009.5 1255.2,1008.2C1256.8,1007.0 1258.4,1005.5 1259.9,1004.0C1261.3,1002.4 1262.6,1000.7 1263.9,999.0C1265.1,997.3 1266.2,995.5 1267.4,993.7C1268.5,991.9 1269.5,990.1 1270.6,988.4C1271.7,986.7 1272.8,985.0 1273.9,983.4C1275.0,981.9 1276.2,980.4 1277.5,979.1C1278.8,977.9 1280.2,976.7 1281.7,975.8C1283.2,974.9 1284.9,974.2 1286.7,973.6C1288.5,973.1 1290.4,972.7 1292.3,972.4C1294.3,972.1 1296.3,971.9 1298.4,971.7C1300.4,971.5 1302.6,971.4 1304.6,971.2C1306.7,971.0 1308.8,970.8 1310.8,970.5C1312.8,970.1 1314.8,969.7 1316.7,969.1C1318.6,968.5 1320.4,967.7 1322.1,966.8C1323.8,965.9 1325.4,964.8 1327.0,963.6C1328.5,962.5 1330.0,961.1 1331.4,959.7C1332.8,958.3 1334.1,956.7 1335.3,955.1C1336.6,953.5 1337.7,951.8 1338.8,950.1C1340.0,948.3 1341.0,946.5 1342.0,944.7C1343.0,942.9 1343.9,941.0 1344.8,939.1C1345.7,937.2 1346.6,935.4 1347.4,933.5C1348.2,931.6 1348.9,929.7 1349.6,927.9C1350.4,926.0 1351.1,924.2 1351.7,922.3C1352.4,920.5 1353.0,918.6 1353.7,916.8C1354.3,914.9 1355.0,913.1 1355.6,911.2C1356.2,909.4 1356.8,907.5 1357.5,905.7C1358.1,903.9 1358.8,902.0 1359.4,900.2C1360.1,898.3 1360.8,896.5 1361.5,894.7C1362.2,892.8 1362.9,891.0 1363.7,889.1C1364.5,887.3 1364.9,886.4 1366.2,883.6C1367.5,880.8 1369.7,876.2 1371.3,872.5C1373.0,868.8 1374.6,865.1 1376.1,861.3C1377.6,857.6 1379.0,853.8 1380.4,850.0C1381.7,846.3 1383.0,842.5 1384.2,838.7C1385.4,834.9 1386.5,831.1 1387.6,827.2C1388.6,823.4 1389.6,819.6 1390.6,815.7C1391.5,811.9 1392.4,808.0 1393.3,804.1C1394.1,800.3 1395.0,796.4 1395.7,792.5C1396.5,788.6 1397.2,784.7 1398.0,780.8C1398.7,776.9 1399.4,773.0 1400.0,769.1C1400.7,765.2 1401.3,761.2 1402.0,757.3C1402.6,753.4 1403.2,749.4 1403.8,745.5C1404.5,741.5 1405.1,737.6 1405.7,733.6C1406.3,729.7 1406.9,725.7 1407.6,721.8C1408.2,717.8 1408.8,713.8 1409.5,709.9C1410.1,705.9 1410.8,701.9 1411.4,697.9C1412.0,694.0 1412.7,690.0 1413.3,686.0C1414.0,682.0 1414.6,678.1 1415.3,674.1C1415.9,670.1 1416.6,666.1 1417.2,662.2C1417.9,658.2 1418.6,654.2 1419.2,650.3C1419.9,646.3 1420.5,642.3 1421.2,638.4C1421.8,634.4 1422.5,630.4 1423.1,626.5C1423.8,622.5 1424.4,618.6 1425.1,614.6C1425.7,610.7 1426.4,606.7 1427.0,602.8C1427.7,598.8 1428.3,594.9 1429.0,591.0C1429.6,587.0 1430.2,583.1 1430.9,579.2C1431.5,575.2 1432.2,571.3 1432.8,567.4C1433.5,563.5 1434.1,559.6 1434.8,555.6C1435.4,551.7 1436.1,547.8 1436.8,543.9C1437.4,540.0 1438.1,536.1 1438.8,532.2C1439.4,528.3 1440.1,524.3 1440.8,520.4C1441.4,516.5 1442.1,512.6 1442.8,508.7C1443.5,504.8 1444.2,500.9 1444.9,497.0C1445.6,493.1 1446.3,489.2 1447.0,485.3C1447.7,481.4 1448.4,477.5 1449.1,473.6C1449.8,469.7 1450.5,465.8 1451.2,461.9C1451.9,458.0 1452.6,454.1 1453.3,450.2C1454.1,446.3 1454.8,442.4 1455.5,438.5C1456.2,434.6 1456.9,430.7 1457.6,426.8C1458.4,422.9 1459.1,419.0 1459.8,415.0C1460.5,411.1 1461.2,407.2 1461.9,403.3C1462.6,399.4 1463.3,395.5 1464.0,391.5C1464.7,387.6 1465.3,383.7 1466.0,379.8C1466.7,375.8 1467.3,371.9 1468.0,368.0C1468.7,364.1 1469.3,360.1 1469.9,356.2C1470.6,352.2 1471.2,348.3 1471.8,344.4C1472.4,340.4 1473.0,336.5 1473.6,332.5C1474.2,328.6 1474.8,324.6 1475.3,320.6C1475.9,316.7 1476.5,312.7 1477.1,308.8C1477.7,304.8 1478.2,300.9 1478.8,296.9C1479.4,292.9 1480.0,289.0 1480.6,285.0C1481.2,281.1 1481.8,277.1 1482.4,273.2C1483.0,269.2 1483.6,265.2 1484.2,261.3C1484.8,257.3 1485.5,253.4 1486.1,249.5C1486.8,245.5 1487.5,241.6 1488.1,237.6C1488.8,233.7 1489.5,229.8 1490.3,225.8C1491.0,221.9 1491.7,218.0 1492.5,214.1C1493.3,210.1 1494.1,206.2 1494.9,202.3C1495.7,198.4 1496.9,193.2 1497.5,190.6C1498.1,188.0 1498.1,188.1 1498.4,186.8C1498.7,185.5 1499.0,184.2 1499.3,182.9C1499.6,181.6 1499.9,180.3 1500.2,179.0C1500.6,177.7 1500.9,176.4 1501.2,175.1C1501.5,173.8 1501.9,172.6 1502.2,171.3C1502.5,170.0 1502.9,168.7 1503.2,167.4C1503.5,166.1 1503.9,164.8 1504.2,163.6C1504.6,162.3 1504.9,161.0 1505.3,159.7C1505.7,158.5 1506.2,157.2 1506.7,155.9C1507.2,154.7 1507.7,153.4 1508.3,152.2C1509.0,150.9 1509.7,149.5 1510.5,148.5C1511.3,147.4 1512.3,146.2 1513.2,146.0C1514.1,145.9 1515.1,146.7 1516.0,147.5C1516.9,148.2 1517.8,149.5 1518.6,150.6C1519.3,151.7 1520.0,152.9 1520.7,154.2C1521.3,155.4 1521.9,156.7 1522.4,158.0C1523.0,159.3 1523.5,160.6 1523.9,161.9C1524.4,163.1 1524.9,164.4 1525.3,165.6C1525.7,166.9 1526.1,168.1 1526.5,169.4C1526.9,170.6 1527.3,171.9 1527.7,173.1C1528.1,174.4 1528.5,175.6 1528.9,176.9C1529.3,178.2 1529.6,179.4 1530.0,180.7C1530.4,181.9 1530.4,181.9 1531.1,184.5C1531.8,187.0 1533.2,192.1 1534.3,195.9C1535.3,199.7 1536.3,203.6 1537.2,207.4C1538.1,211.3 1539.1,215.2 1539.9,219.0C1540.8,222.9 1541.7,226.8 1542.5,230.7C1543.3,234.6 1544.1,238.6 1544.9,242.5C1545.7,246.4 1546.5,250.4 1547.2,254.3C1547.9,258.3 1548.6,262.2 1549.3,266.2C1550.0,270.1 1550.7,274.1 1551.4,278.1C1552.0,282.0 1552.7,286.0 1553.3,290.0C1553.9,294.0 1554.5,298.0 1555.1,301.9C1555.8,305.9 1556.4,309.9 1556.9,313.9C1557.5,317.9 1558.1,321.9 1558.7,325.9C1559.3,329.8 1559.9,333.8 1560.4,337.8C1561.0,341.8 1561.6,345.8 1562.1,349.7C1562.7,353.7 1563.2,357.7 1563.8,361.7C1564.3,365.6 1564.9,369.6 1565.4,373.6C1566.0,377.6 1566.5,381.5 1567.0,385.5C1567.6,389.5 1568.1,393.5 1568.6,397.4C1569.1,401.4 1569.7,405.4 1570.2,409.3C1570.7,413.3 1571.2,417.3 1571.7,421.2C1572.2,425.2 1572.7,429.2 1573.2,433.2C1573.7,437.1 1574.2,441.1 1574.7,445.1C1575.1,449.0 1575.6,453.0 1576.1,456.9C1576.6,460.9 1577.1,464.9 1577.5,468.8C1578.0,472.8 1578.5,476.8 1578.9,480.7C1579.4,484.7 1579.8,488.7 1580.3,492.6C1580.8,496.6 1581.2,500.6 1581.7,504.5C1582.1,508.5 1582.5,512.4 1583.0,516.4C1583.4,520.4 1583.9,524.3 1584.3,528.3C1584.7,532.3 1585.2,536.2 1585.6,540.2C1586.0,544.2 1586.4,548.1 1586.9,552.1C1587.3,556.1 1587.7,560.0 1588.1,564.0C1588.5,568.0 1588.9,571.9 1589.3,575.9C1589.8,579.8 1590.2,583.8 1590.6,587.8C1591.0,591.7 1591.4,595.7 1591.8,599.7C1592.2,603.7 1592.6,607.6 1592.9,611.6C1593.3,615.6 1593.7,619.5 1594.1,623.5C1594.5,627.5 1594.9,631.4 1595.3,635.4C1595.7,639.4 1596.0,643.4 1596.4,647.3C1596.8,651.3 1597.2,655.3 1597.6,659.3C1597.9,663.2 1598.3,667.2 1598.7,671.2C1599.1,675.2 1599.4,679.1 1599.8,683.1C1600.2,687.1 1600.6,691.1 1600.9,695.1C1601.3,699.0 1601.7,703.0 1602.1,707.0C1602.4,711.0 1602.8,714.9 1603.2,718.9C1603.6,722.9 1604.0,726.9 1604.4,730.9C1604.7,734.8 1605.1,738.8 1605.5,742.8C1605.9,746.8 1606.3,750.8 1606.7,754.7C1607.1,758.7 1607.5,762.7 1607.9,766.7C1608.3,770.6 1608.7,774.6 1609.1,778.6C1609.5,782.6 1609.9,786.6 1610.4,790.5C1610.8,794.5 1611.2,798.5 1611.6,802.5C1612.1,806.4 1612.5,810.4 1612.9,814.4C1613.4,818.4 1613.8,822.3 1614.3,826.3C1614.7,830.3 1615.2,834.3 1615.7,838.2C1616.1,842.2 1616.6,846.2 1617.1,850.1C1617.6,854.1 1618.1,858.1 1618.6,862.0C1619.1,866.0 1619.6,870.0 1620.1,873.9C1620.6,877.9 1621.1,881.9 1621.6,885.8C1622.2,889.8 1622.7,893.8 1623.3,897.7C1623.8,901.7 1624.4,905.7 1624.9,909.6C1625.5,913.6 1626.1,917.5 1626.7,921.5C1627.3,925.4 1627.9,929.4 1628.5,933.3C1629.1,937.3 1629.7,941.3 1630.4,945.2C1631.0,949.2 1631.7,953.1 1632.3,957.0C1633.0,961.0 1633.7,964.9 1634.3,968.9C1635.0,972.8 1635.7,976.8 1636.4,980.7C1637.1,984.7 1637.8,988.6 1638.5,992.5C1639.2,996.5 1639.9,1000.4 1640.6,1004.3C1641.3,1008.3 1642.0,1012.2 1642.7,1016.1C1643.5,1020.1 1644.2,1024.0 1644.9,1027.9C1645.6,1031.9 1646.3,1035.8 1647.0,1039.7C1647.7,1043.7 1648.4,1047.6 1649.1,1051.5C1649.8,1055.5 1650.4,1059.4 1651.1,1063.3C1651.8,1067.2 1652.5,1071.2 1653.2,1075.1C1653.9,1079.0 1654.7,1083.9 1655.2,1086.9C1655.8,1089.8 1655.9,1090.8 1656.3,1092.8C1656.6,1094.7 1657.0,1096.7 1657.4,1098.7C1657.7,1100.6 1658.1,1102.6 1658.5,1104.6C1658.8,1106.5 1659.2,1108.5 1659.6,1110.4C1660.0,1112.4 1660.4,1114.4 1660.8,1116.3C1661.2,1118.3 1661.6,1120.3 1662.0,1122.2C1662.4,1124.2 1662.8,1126.1 1663.2,1128.1C1663.7,1130.1 1664.1,1132.0 1664.6,1134.0C1665.0,1135.9 1665.5,1137.9 1665.9,1139.9C1666.4,1141.8 1666.9,1143.8 1667.4,1145.7C1667.9,1147.6 1668.4,1149.6 1669.0,1151.5C1669.5,1153.4 1670.1,1155.4 1670.7,1157.3C1671.2,1159.2 1671.8,1161.1 1672.5,1163.0C1673.1,1164.9 1673.7,1166.8 1674.4,1168.7C1675.1,1170.5 1675.8,1172.4 1676.5,1174.3C1677.2,1176.1 1677.9,1178.0 1678.7,1179.8C1679.5,1181.6 1680.3,1183.4 1681.2,1185.2C1682.0,1187.0 1682.9,1188.8 1683.8,1190.6C1684.7,1192.4 1685.6,1194.1 1686.5,1195.9C1687.5,1197.6 1688.5,1199.3 1689.5,1201.1C1690.5,1202.8 1691.5,1204.5 1692.6,1206.2C1693.7,1207.9 1694.7,1209.6 1695.8,1211.3C1696.9,1212.9 1698.1,1214.6 1699.2,1216.3C1700.4,1218.0 1701.5,1219.6 1702.7,1221.3C1703.9,1222.9 1705.1,1224.6 1706.3,1226.2C1707.5,1227.8 1708.7,1229.4 1710.0,1231.0C1711.3,1232.5 1712.6,1234.1 1714.0,1235.5C1715.3,1237.0 1716.7,1238.4 1718.2,1239.7C1719.6,1241.0 1721.1,1242.3 1722.7,1243.5C1724.3,1244.6 1725.9,1245.7 1727.6,1246.7C1729.3,1247.7 1731.0,1248.5 1732.8,1249.4C1734.6,1250.2 1736.5,1251.0 1738.3,1251.7C1740.2,1252.5 1742.1,1253.2 1744.0,1254.0C1745.9,1254.8 1747.8,1255.5 1749.7,1256.4C1751.6,1257.2 1753.5,1258.1 1755.3,1258.8C1757.2,1259.6 1759.1,1260.3 1761.0,1260.9C1763.0,1261.4 1764.9,1261.8 1766.8,1262.1C1768.7,1262.4 1770.7,1262.5 1772.6,1262.6C1774.6,1262.7 1776.5,1262.7 1778.5,1262.7C1780.4,1262.7 1782.4,1262.7 1784.4,1262.6C1786.4,1262.6 1788.3,1262.6 1790.3,1262.7C1792.3,1262.7 1794.3,1262.8 1796.3,1263.0C1798.3,1263.3 1800.3,1263.6 1802.2,1264.0C1804.2,1264.4 1806.2,1265.0 1808.2,1265.5C1810.2,1266.0 1812.2,1266.6 1814.2,1267.0C1816.2,1267.5 1818.2,1267.9 1820.1,1268.2C1822.1,1268.5 1824.1,1268.6 1826.1,1268.8C1828.1,1268.9 1830.1,1269.0 1832.1,1269.1C1834.1,1269.2 1836.1,1269.3 1838.1,1269.3C1840.0,1269.4 1842.0,1269.4 1844.0,1269.4C1846.0,1269.4 1848.0,1269.4 1850.0,1269.4C1852.0,1269.4 1854.0,1269.4 1856.0,1269.4C1858.0,1269.4 1860.0,1269.3 1862.0,1269.3C1863.9,1269.3 1865.9,1269.3 1867.9,1269.3C1869.9,1269.3 1871.9,1269.2 1873.9,1269.3C1875.9,1269.3 1877.9,1269.3 1879.9,1269.3C1881.9,1269.4 1883.9,1269.4 1885.9,1269.5C1887.9,1269.6 1889.8,1269.7 1891.8,1269.8C1893.8,1269.9 1895.8,1270.0 1897.8,1270.1C1899.8,1270.2 1901.8,1270.4 1903.8,1270.5C1905.8,1270.7 1907.8,1270.8 1909.8,1271.0C1911.8,1271.2 1913.8,1271.4 1915.8,1271.5C1917.7,1271.7 1919.7,1271.9 1921.7,1272.1C1923.7,1272.3 1925.7,1272.5 1927.7,1272.7C1929.7,1272.9 1931.7,1273.1 1933.7,1273.3C1935.7,1273.5 1937.7,1273.8 1939.7,1274.0C1941.6,1274.2 1943.6,1274.4 1945.6,1274.6C1947.6,1274.8 1949.6,1275.0 1951.6,1275.2C1953.6,1275.4 1955.2,1275.7 1957.6,1275.8C1960.0,1275.9 1962.1,1276.7 1966.2,1275.8C1970.3,1275.0 1979.5,1271.6 1982.2,1270.7" stroke="#FF0000" stroke-width="7.4"/>
<path d="M283.8,1231.9C284.8,1231.8 287.8,1231.4 289.7,1231.3C291.7,1231.2 293.7,1231.2 295.7,1231.3C297.7,1231.4 299.6,1231.6 301.6,1231.8C303.6,1232.1 305.6,1232.4 307.6,1232.7C309.5,1233.1 311.5,1233.4 313.5,1233.8C315.5,1234.2 317.4,1234.6 319.4,1235.0C321.4,1235.4 323.4,1235.8 325.4,1236.0C327.3,1236.3 329.3,1236.5 331.3,1236.5C333.3,1236.5 335.2,1236.3 337.2,1236.0C339.2,1235.7 341.2,1235.2 343.2,1234.8C345.1,1234.3 347.1,1233.8 349.1,1233.3C351.1,1232.9 353.0,1232.4 355.0,1232.1C357.0,1231.8 359.0,1231.6 360.9,1231.6C362.9,1231.7 364.9,1232.0 366.9,1232.4C368.8,1232.7 370.8,1233.4 372.8,1233.8C374.8,1234.1 376.7,1234.4 378.7,1234.4C380.7,1234.3 382.7,1233.9 384.6,1233.5C386.6,1233.1 388.6,1232.5 390.6,1232.2C392.5,1232.0 394.5,1231.8 396.5,1232.0C398.5,1232.1 400.4,1232.6 402.4,1233.1C404.4,1233.6 406.4,1234.4 408.3,1235.1C410.3,1235.8 412.3,1236.7 414.2,1237.4C416.2,1238.1 418.2,1238.7 420.2,1239.1C422.1,1239.5 424.1,1239.6 426.1,1239.6C428.1,1239.6 430.0,1239.3 432.0,1239.1C434.0,1238.9 436.0,1238.5 437.9,1238.3C439.9,1238.1 441.9,1237.8 443.8,1237.7C445.8,1237.7 447.8,1237.9 449.8,1238.1C451.7,1238.4 453.7,1238.8 455.7,1239.2C457.7,1239.6 459.6,1240.1 461.6,1240.5C463.6,1240.8 465.5,1241.0 467.5,1241.2C469.5,1241.4 471.5,1241.5 473.4,1241.5C475.4,1241.6 477.4,1241.6 479.3,1241.5C481.3,1241.5 483.3,1241.4 485.3,1241.3C487.2,1241.2 489.2,1241.1 491.2,1241.0C493.2,1240.9 495.1,1240.8 497.1,1240.7C499.1,1240.6 501.0,1240.5 503.0,1240.5C505.0,1240.5 507.0,1240.5 508.9,1240.6C510.9,1240.7 512.9,1240.9 514.9,1241.1C516.8,1241.3 518.8,1241.5 520.8,1241.8C522.7,1242.1 524.7,1242.4 526.7,1242.6C528.7,1242.9 530.6,1243.2 532.6,1243.4C534.6,1243.7 536.5,1243.9 538.5,1244.1C540.5,1244.3 542.5,1244.4 544.4,1244.5C546.4,1244.5 548.4,1244.5 550.4,1244.4C552.3,1244.3 554.3,1244.1 556.3,1243.8C558.2,1243.5 560.2,1243.1 562.2,1242.6C564.2,1242.2 566.1,1241.7 568.1,1241.1C570.1,1240.6 572.1,1240.0 574.0,1239.5C576.0,1239.0 578.0,1238.4 580.0,1237.9C581.9,1237.4 583.9,1236.9 585.9,1236.5C587.9,1236.1 589.8,1235.8 591.8,1235.5C593.8,1235.3 595.7,1235.1 597.7,1235.1C599.7,1235.1 601.7,1235.3 603.6,1235.4C605.6,1235.5 607.6,1235.7 609.6,1235.7C611.5,1235.7 613.5,1235.5 615.5,1235.2C617.5,1234.8 619.4,1234.2 621.4,1233.6C623.4,1233.1 625.4,1232.3 627.3,1231.8C629.3,1231.2 631.3,1230.7 633.3,1230.3C635.3,1229.9 637.2,1229.7 639.2,1229.4C641.2,1229.2 643.2,1229.1 645.1,1229.0C647.1,1228.9 649.1,1228.9 651.1,1228.9C653.0,1228.9 655.0,1228.9 657.0,1228.9C659.0,1228.9 660.9,1228.9 662.9,1228.9C664.9,1228.9 666.9,1228.9 668.8,1228.8C670.8,1228.7 672.8,1228.5 674.8,1228.3C676.7,1228.1 678.7,1227.8 680.7,1227.4C682.7,1227.1 684.6,1226.6 686.6,1226.1C688.6,1225.6 690.6,1225.1 692.5,1224.5C694.5,1224.0 696.5,1223.4 698.4,1222.8C700.4,1222.3 702.4,1221.7 704.4,1221.2C706.3,1220.6 708.3,1220.1 710.3,1219.6C712.2,1219.2 714.2,1218.8 716.2,1218.4C718.1,1218.1 720.1,1217.9 722.1,1217.6C724.0,1217.4 726.0,1217.2 728.0,1217.0C729.9,1216.7 731.9,1216.5 733.9,1216.2C735.8,1215.9 737.8,1215.5 739.7,1215.1C741.7,1214.7 743.7,1214.3 745.6,1213.9C747.6,1213.4 749.5,1212.9 751.5,1212.5C753.4,1212.0 755.4,1211.5 757.4,1211.0C759.3,1210.6 761.3,1210.1 763.2,1209.7C765.2,1209.3 767.1,1208.8 769.1,1208.5C771.0,1208.1 773.0,1207.8 774.9,1207.6C776.9,1207.3 778.8,1207.1 780.7,1207.0C782.7,1206.9 784.6,1206.9 786.6,1207.0C788.5,1207.1 790.5,1207.3 792.4,1207.6C794.3,1208.0 796.3,1208.5 798.2,1209.0C800.1,1209.4 802.1,1209.9 804.0,1210.2C805.9,1210.5 807.9,1210.6 809.8,1210.7C811.7,1210.9 813.6,1210.8 815.6,1211.1C817.5,1211.4 819.4,1211.8 821.3,1212.3C823.3,1212.9 825.2,1213.8 827.1,1214.5C829.0,1215.2 831.0,1216.0 832.9,1216.5C834.8,1217.1 836.7,1217.4 838.6,1217.7C840.5,1218.1 842.5,1218.1 844.4,1218.6C846.3,1219.0 848.2,1219.6 850.1,1220.4C852.0,1221.2 853.9,1222.3 855.8,1223.2C857.8,1224.1 859.7,1225.0 861.6,1225.7C863.5,1226.4 865.4,1227.0 867.3,1227.5C869.2,1228.1 871.1,1228.5 873.0,1229.1C875.0,1229.7 876.9,1230.3 878.8,1231.1C880.7,1231.8 882.6,1232.7 884.5,1233.5C886.4,1234.2 888.3,1235.1 890.2,1235.8C892.1,1236.5 894.0,1237.2 896.0,1237.7C897.9,1238.2 899.8,1238.5 901.7,1238.6C903.6,1238.7 905.5,1238.5 907.4,1238.3C909.3,1238.2 911.2,1237.9 913.1,1237.8C915.1,1237.8 917.0,1237.8 918.9,1238.1C920.8,1238.4 922.7,1239.0 924.6,1239.6C926.5,1240.3 928.5,1241.2 930.4,1242.0C932.3,1242.9 934.2,1243.9 936.1,1244.7C938.0,1245.5 940.0,1246.4 941.9,1247.1C943.8,1247.8 945.7,1248.5 947.6,1249.2C949.6,1249.8 951.5,1250.4 953.4,1250.9C955.3,1251.4 957.3,1251.9 959.2,1252.3C961.1,1252.8 963.1,1253.1 965.0,1253.5C966.9,1253.8 968.9,1254.1 970.8,1254.5C972.7,1254.8 974.7,1255.1 976.6,1255.5C978.5,1255.9 980.5,1256.3 982.4,1256.8C984.4,1257.2 986.3,1257.8 988.3,1258.4C990.2,1258.9 992.2,1259.7 994.1,1260.3C996.1,1261.0 998.0,1261.7 1000.0,1262.2C1001.9,1262.8 1003.9,1263.2 1005.8,1263.6C1007.8,1263.9 1009.8,1264.1 1011.7,1264.3C1013.7,1264.4 1015.7,1264.4 1017.6,1264.4C1019.6,1264.4 1021.5,1264.4 1023.5,1264.3C1025.5,1264.2 1027.5,1264.1 1029.4,1264.0C1031.4,1263.9 1033.4,1263.7 1035.4,1263.7C1037.3,1263.6 1039.3,1263.5 1041.3,1263.5C1043.3,1263.6 1045.2,1263.6 1047.2,1263.8C1049.2,1263.9 1051.2,1264.1 1053.2,1264.4C1055.1,1264.6 1057.1,1264.9 1059.1,1265.2C1061.1,1265.5 1063.1,1265.9 1065.1,1266.2C1067.1,1266.6 1069.1,1266.9 1071.0,1267.3C1073.0,1267.6 1075.0,1268.0 1077.0,1268.3C1079.0,1268.6 1081.0,1268.9 1083.0,1269.1C1085.0,1269.3 1087.0,1269.5 1089.0,1269.7C1091.0,1269.8 1093.0,1269.9 1095.0,1269.9C1097.0,1269.9 1099.0,1269.9 1100.9,1269.9C1102.9,1269.8 1104.9,1269.7 1106.9,1269.6C1108.9,1269.6 1110.9,1269.4 1112.9,1269.4C1114.9,1269.3 1116.9,1269.2 1118.9,1269.1C1120.9,1269.0 1122.9,1269.0 1124.9,1269.0C1126.9,1269.0 1128.9,1269.0 1130.9,1269.1C1132.9,1269.2 1134.9,1269.3 1136.9,1269.5C1138.9,1269.7 1140.9,1270.0 1142.9,1270.2C1144.9,1270.4 1146.9,1270.6 1148.9,1270.7C1150.9,1270.8 1152.9,1270.8 1154.9,1270.8C1156.9,1270.7 1158.9,1270.4 1160.9,1270.2C1162.9,1270.0 1164.9,1269.7 1166.9,1269.5C1168.9,1269.3 1170.9,1269.2 1172.9,1269.1C1174.9,1269.0 1176.9,1268.9 1178.9,1268.9C1180.9,1268.9 1182.9,1268.9 1184.9,1268.9C1186.9,1268.9 1188.9,1269.0 1190.9,1269.0C1192.9,1269.1 1194.9,1269.1 1196.9,1269.2C1198.9,1269.2 1200.9,1269.2 1202.9,1269.2C1204.9,1269.2 1206.9,1269.2 1208.9,1269.2C1210.9,1269.1 1212.9,1269.1 1214.9,1269.0C1216.8,1268.9 1218.8,1268.8 1220.8,1268.7C1222.8,1268.6 1224.8,1268.4 1226.8,1268.3C1228.8,1268.1 1230.8,1268.0 1232.8,1267.8C1234.8,1267.6 1236.7,1267.4 1238.7,1267.1C1240.7,1266.9 1242.7,1266.7 1244.7,1266.4C1246.7,1266.2 1248.7,1265.9 1250.6,1265.6C1252.6,1265.4 1254.6,1265.1 1256.6,1264.8C1258.6,1264.5 1260.5,1264.1 1262.5,1263.8C1264.5,1263.5 1266.5,1263.2 1268.5,1262.8C1270.4,1262.5 1272.4,1262.1 1274.4,1261.7C1276.4,1261.4 1278.3,1261.0 1280.3,1260.6C1282.3,1260.3 1284.2,1259.9 1286.2,1259.5C1288.2,1259.1 1290.2,1258.7 1292.1,1258.3C1294.1,1257.9 1296.1,1257.5 1298.0,1257.1C1300.0,1256.7 1301.9,1256.2 1303.9,1255.8C1305.9,1255.4 1307.8,1255.0 1309.8,1254.6C1311.7,1254.1 1313.7,1253.7 1315.6,1253.2C1317.6,1252.8 1319.5,1252.3 1321.4,1251.8C1323.3,1251.3 1325.2,1250.7 1327.1,1250.1C1329.0,1249.5 1330.9,1248.9 1332.7,1248.2C1334.6,1247.5 1336.4,1246.8 1338.2,1246.0C1340.0,1245.1 1341.8,1244.2 1343.6,1243.3C1345.3,1242.3 1347.0,1241.3 1348.7,1240.2C1350.4,1239.1 1352.0,1237.9 1353.6,1236.7C1355.2,1235.4 1356.8,1234.2 1358.3,1232.8C1359.9,1231.5 1361.3,1230.1 1362.8,1228.7C1364.2,1227.2 1365.6,1225.8 1366.9,1224.3C1368.3,1222.8 1369.6,1221.2 1370.8,1219.6C1372.1,1218.1 1373.3,1216.4 1374.4,1214.8C1375.5,1213.2 1376.6,1211.5 1377.7,1209.8C1378.7,1208.1 1379.7,1206.3 1380.6,1204.6C1381.5,1202.8 1382.4,1201.1 1383.2,1199.3C1384.0,1197.5 1384.8,1195.7 1385.5,1193.8C1386.2,1192.0 1386.9,1190.2 1387.6,1188.3C1388.2,1186.5 1388.8,1184.6 1389.4,1182.7C1390.0,1180.8 1390.6,1179.0 1391.2,1177.1C1391.8,1175.2 1392.0,1174.2 1392.9,1171.4C1393.7,1168.6 1395.1,1163.8 1396.1,1160.0C1397.1,1156.2 1398.2,1152.4 1399.1,1148.5C1400.1,1144.7 1401.1,1140.8 1402.0,1137.0C1403.0,1133.1 1403.9,1129.2 1404.7,1125.4C1405.6,1121.5 1406.5,1117.6 1407.3,1113.7C1408.1,1109.8 1409.0,1105.9 1409.7,1102.0C1410.5,1098.0 1411.3,1094.1 1412.1,1090.2C1412.8,1086.3 1413.6,1082.3 1414.3,1078.4C1415.0,1074.4 1415.7,1070.5 1416.4,1066.5C1417.1,1062.6 1417.8,1058.6 1418.4,1054.7C1419.1,1050.7 1419.8,1046.8 1420.4,1042.8C1421.1,1038.8 1421.7,1034.9 1422.3,1030.9C1423.0,1027.0 1423.6,1023.0 1424.2,1019.0C1424.8,1015.1 1425.4,1011.1 1426.0,1007.2C1426.6,1003.2 1427.2,999.2 1427.8,995.3C1428.4,991.3 1429.0,987.3 1429.6,983.4C1430.1,979.4 1430.7,975.4 1431.3,971.5C1431.8,967.5 1432.4,963.5 1432.9,959.6C1433.5,955.6 1434.0,951.7 1434.6,947.7C1435.1,943.7 1435.6,939.7 1436.2,935.8C1436.7,931.8 1437.2,927.8 1437.7,923.9C1438.2,919.9 1438.7,915.9 1439.2,912.0C1439.7,908.0 1440.2,904.0 1440.7,900.1C1441.2,896.1 1441.7,892.1 1442.2,888.1C1442.7,884.2 1443.1,880.2 1443.6,876.2C1444.1,872.3 1444.5,868.3 1445.0,864.3C1445.4,860.3 1445.9,856.4 1446.3,852.4C1446.8,848.4 1447.2,844.5 1447.6,840.5C1448.1,836.5 1448.5,832.5 1448.9,828.6C1449.4,824.6 1449.8,820.6 1450.2,816.6C1450.6,812.7 1451.0,808.7 1451.4,804.7C1451.8,800.7 1452.2,796.7 1452.6,792.8C1453.0,788.8 1453.4,784.8 1453.8,780.8C1454.2,776.9 1454.6,772.9 1455.0,768.9C1455.4,764.9 1455.7,760.9 1456.1,757.0C1456.5,753.0 1456.9,749.0 1457.3,745.0C1457.6,741.1 1458.0,737.1 1458.4,733.1C1458.7,729.1 1459.1,725.1 1459.5,721.2C1459.8,717.2 1460.2,713.2 1460.5,709.2C1460.9,705.2 1461.3,701.2 1461.6,697.3C1462.0,693.3 1462.3,689.3 1462.7,685.3C1463.0,681.3 1463.4,677.4 1463.7,673.4C1464.1,669.4 1464.4,665.4 1464.8,661.4C1465.1,657.4 1465.5,653.5 1465.8,649.5C1466.1,645.5 1466.5,641.5 1466.8,637.5C1467.2,633.5 1467.5,629.6 1467.9,625.6C1468.2,621.6 1468.6,617.6 1468.9,613.6C1469.2,609.6 1469.6,605.6 1469.9,601.7C1470.3,597.7 1470.6,593.7 1470.9,589.7C1471.3,585.7 1471.6,581.7 1472.0,577.8C1472.3,573.8 1472.6,569.8 1473.0,565.8C1473.3,561.8 1473.6,557.8 1474.0,553.8C1474.3,549.9 1474.7,545.9 1475.0,541.9C1475.3,537.9 1475.7,533.9 1476.0,529.9C1476.3,526.0 1476.7,522.0 1477.0,518.0C1477.4,514.0 1477.7,510.0 1478.0,506.1C1478.4,502.1 1478.7,498.1 1479.0,494.1C1479.4,490.1 1479.7,486.2 1480.1,482.2C1480.4,478.2 1480.7,474.2 1481.1,470.2C1481.4,466.3 1481.7,462.3 1482.1,458.3C1482.4,454.3 1482.8,450.3 1483.1,446.4C1483.4,442.4 1483.8,438.4 1484.1,434.4C1484.5,430.5 1484.8,426.5 1485.1,422.5C1485.5,418.5 1485.8,414.6 1486.2,410.6C1486.5,406.6 1486.8,402.7 1487.2,398.7C1487.5,394.7 1487.9,390.7 1488.2,386.8C1488.6,382.8 1488.9,378.8 1489.3,374.9C1489.6,370.9 1490.0,366.9 1490.4,363.0C1490.7,359.0 1491.1,355.1 1491.5,351.1C1491.9,347.1 1492.2,343.2 1492.6,339.2C1493.0,335.2 1493.4,331.3 1493.8,327.3C1494.2,323.4 1494.7,319.4 1495.1,315.5C1495.5,311.5 1495.9,307.5 1496.4,303.6C1496.8,299.6 1497.3,295.7 1497.8,291.7C1498.2,287.8 1498.7,283.8 1499.2,279.9C1499.7,275.9 1500.2,272.0 1500.7,268.0C1501.3,264.1 1501.8,260.2 1502.3,256.2C1502.9,252.3 1503.4,248.3 1504.0,244.4C1504.6,240.4 1505.2,236.5 1505.8,232.6C1506.4,228.6 1507.1,224.7 1507.7,220.8C1508.4,216.8 1509.0,212.9 1509.7,209.0C1510.4,205.0 1511.1,201.1 1511.8,197.2C1512.5,193.2 1513.5,188.0 1514.0,185.4C1514.5,182.7 1514.5,182.7 1514.8,181.4C1515.0,180.1 1515.3,178.8 1515.5,177.5C1515.8,176.2 1516.0,174.8 1516.3,173.5C1516.6,172.2 1516.8,170.9 1517.1,169.6C1517.3,168.3 1517.6,166.9 1517.8,165.6C1518.1,164.3 1518.4,163.0 1518.6,161.7C1518.9,160.3 1519.2,159.0 1519.5,157.7C1519.9,156.4 1520.2,155.1 1520.7,153.9C1521.1,152.6 1521.6,151.3 1522.2,150.1C1522.7,149.0 1523.4,147.5 1524.2,146.8C1525.1,146.2 1526.3,145.9 1527.4,146.1C1528.4,146.2 1529.7,147.0 1530.6,147.9C1531.6,148.8 1532.5,150.0 1533.3,151.2C1534.1,152.4 1534.9,153.6 1535.5,154.8C1536.2,156.1 1536.8,157.3 1537.3,158.6C1537.9,159.8 1538.4,161.1 1538.8,162.3C1539.3,163.6 1539.6,164.9 1540.0,166.1C1540.4,167.4 1540.7,168.7 1541.0,170.0C1541.3,171.3 1541.3,171.3 1541.9,173.9C1542.4,176.4 1543.5,181.6 1544.2,185.5C1545.0,189.4 1545.7,193.3 1546.4,197.2C1547.1,201.1 1547.8,205.1 1548.5,209.0C1549.2,212.9 1549.8,216.8 1550.5,220.7C1551.1,224.7 1551.7,228.6 1552.3,232.5C1552.9,236.5 1553.5,240.4 1554.0,244.4C1554.6,248.3 1555.1,252.2 1555.7,256.2C1556.2,260.2 1556.7,264.1 1557.2,268.1C1557.7,272.0 1558.2,276.0 1558.6,280.0C1559.1,283.9 1559.5,287.9 1560.0,291.9C1560.4,295.9 1560.8,299.8 1561.2,303.8C1561.7,307.8 1562.1,311.8 1562.4,315.8C1562.8,319.7 1563.2,323.7 1563.6,327.7C1563.9,331.7 1564.3,335.7 1564.6,339.7C1565.0,343.7 1565.3,347.7 1565.7,351.7C1566.0,355.7 1566.3,359.7 1566.6,363.7C1566.9,367.7 1567.2,371.7 1567.6,375.7C1567.9,379.7 1568.1,383.7 1568.4,387.7C1568.7,391.7 1569.0,395.7 1569.3,399.7C1569.6,403.7 1569.8,407.7 1570.1,411.7C1570.4,415.7 1570.7,419.7 1570.9,423.7C1571.2,427.7 1571.5,431.8 1571.7,435.8C1572.0,439.8 1572.3,443.8 1572.5,447.8C1572.8,451.8 1573.0,455.8 1573.3,459.8C1573.6,463.8 1573.8,467.8 1574.1,471.8C1574.4,475.8 1574.6,479.8 1574.9,483.8C1575.2,487.8 1575.5,491.8 1575.7,495.8C1576.0,499.8 1576.3,503.8 1576.6,507.8C1576.8,511.8 1577.1,515.8 1577.4,519.8C1577.7,523.7 1578.0,527.7 1578.3,531.7C1578.6,535.7 1578.9,539.7 1579.2,543.7C1579.5,547.7 1579.8,551.7 1580.1,555.6C1580.4,559.6 1580.7,563.6 1581.0,567.6C1581.3,571.6 1581.6,575.6 1581.9,579.5C1582.2,583.5 1582.5,587.5 1582.8,591.5C1583.2,595.5 1583.5,599.4 1583.8,603.4C1584.1,607.4 1584.4,611.4 1584.7,615.4C1585.1,619.3 1585.4,623.3 1585.7,627.3C1586.0,631.3 1586.3,635.3 1586.7,639.2C1587.0,643.2 1587.3,647.2 1587.7,651.2C1588.0,655.1 1588.3,659.1 1588.6,663.1C1589.0,667.1 1589.3,671.0 1589.6,675.0C1590.0,679.0 1590.3,683.0 1590.6,686.9C1591.0,690.9 1591.3,694.9 1591.6,698.9C1592.0,702.9 1592.3,706.8 1592.6,710.8C1593.0,714.8 1593.3,718.8 1593.6,722.7C1594.0,726.7 1594.3,730.7 1594.7,734.7C1595.0,738.7 1595.3,742.6 1595.7,746.6C1596.0,750.6 1596.3,754.6 1596.7,758.6C1597.0,762.6 1597.4,766.5 1597.7,770.5C1598.0,774.5 1598.4,778.5 1598.7,782.5C1599.1,786.5 1599.4,790.4 1599.7,794.4C1600.1,798.4 1600.4,802.4 1600.7,806.4C1601.1,810.4 1601.4,814.4 1601.8,818.4C1602.1,822.4 1602.4,826.4 1602.8,830.3C1603.1,834.3 1603.4,838.3 1603.8,842.3C1604.1,846.3 1604.5,850.3 1604.8,854.3C1605.2,858.3 1605.5,862.3 1605.8,866.3C1606.2,870.3 1606.5,874.3 1606.9,878.3C1607.3,882.3 1607.6,886.3 1608.0,890.3C1608.3,894.3 1608.7,898.3 1609.1,902.3C1609.5,906.2 1609.8,910.2 1610.2,914.2C1610.6,918.2 1611.0,922.2 1611.4,926.2C1611.8,930.2 1612.2,934.2 1612.6,938.2C1613.0,942.2 1613.4,946.2 1613.8,950.1C1614.2,954.1 1614.6,958.1 1615.1,962.1C1615.5,966.1 1615.9,970.1 1616.4,974.0C1616.8,978.0 1617.3,982.0 1617.8,986.0C1618.2,990.0 1618.7,993.9 1619.2,997.9C1619.7,1001.9 1620.2,1005.8 1620.7,1009.8C1621.2,1013.8 1621.7,1017.7 1622.2,1021.7C1622.7,1025.7 1623.3,1029.6 1623.8,1033.6C1624.3,1037.6 1624.9,1041.5 1625.5,1045.5C1626.0,1049.4 1626.6,1053.4 1627.2,1057.3C1627.8,1061.3 1628.6,1066.2 1629.0,1069.1C1629.5,1072.1 1629.7,1073.1 1630.0,1075.0C1630.3,1077.0 1630.6,1079.0 1630.9,1080.9C1631.3,1082.9 1631.6,1084.9 1631.9,1086.8C1632.2,1088.8 1632.6,1090.8 1632.9,1092.7C1633.2,1094.7 1633.6,1096.7 1633.9,1098.6C1634.3,1100.6 1634.6,1102.5 1635.0,1104.5C1635.3,1106.5 1635.7,1108.4 1636.0,1110.4C1636.4,1112.3 1636.8,1114.3 1637.1,1116.3C1637.5,1118.2 1637.9,1120.2 1638.2,1122.1C1638.6,1124.1 1639.0,1126.0 1639.4,1128.0C1639.8,1129.9 1640.1,1131.9 1640.5,1133.8C1640.9,1135.8 1641.3,1137.7 1641.7,1139.7C1642.1,1141.6 1642.6,1143.6 1643.0,1145.5C1643.4,1147.4 1643.8,1149.4 1644.2,1151.3C1644.7,1153.3 1645.1,1155.2 1645.6,1157.2C1646.0,1159.1 1646.5,1161.0 1646.9,1163.0C1647.4,1164.9 1647.9,1166.9 1648.4,1168.8C1648.9,1170.7 1649.4,1172.7 1649.9,1174.6C1650.4,1176.5 1650.9,1178.5 1651.4,1180.4C1651.9,1182.3 1652.5,1184.3 1653.0,1186.2C1653.6,1188.1 1654.1,1190.1 1654.7,1192.0C1655.3,1193.9 1655.9,1195.8 1656.5,1197.7C1657.2,1199.7 1657.8,1201.6 1658.5,1203.4C1659.2,1205.3 1659.9,1207.2 1660.6,1209.0C1661.4,1210.9 1662.2,1212.7 1663.0,1214.5C1663.9,1216.3 1664.8,1218.1 1665.7,1219.9C1666.6,1221.6 1667.6,1223.4 1668.7,1225.1C1669.7,1226.8 1670.8,1228.4 1672.0,1230.1C1673.2,1231.7 1674.4,1233.3 1675.7,1234.8C1677.0,1236.4 1678.4,1237.9 1679.8,1239.4C1681.3,1240.8 1682.8,1242.3 1684.4,1243.5C1685.9,1244.7 1687.6,1245.8 1689.2,1246.7C1690.8,1247.7 1692.5,1248.1 1694.1,1249.0C1695.7,1249.9 1697.3,1250.9 1698.9,1252.1C1700.6,1253.4 1702.2,1255.0 1703.8,1256.3C1705.5,1257.7 1707.2,1259.2 1709.0,1260.1C1710.8,1261.0 1712.7,1261.5 1714.6,1261.9C1716.6,1262.4 1718.5,1262.6 1720.5,1262.9C1722.4,1263.2 1724.3,1263.5 1726.3,1263.8C1728.2,1264.1 1730.2,1264.3 1732.2,1264.6C1734.1,1264.8 1736.1,1265.0 1738.1,1265.3C1740.0,1265.6 1742.0,1265.8 1744.0,1266.1C1746.0,1266.3 1747.9,1266.6 1749.9,1266.9C1751.9,1267.2 1753.9,1267.5 1755.9,1267.8C1757.9,1268.1 1759.9,1268.4 1761.8,1268.7C1763.8,1269.0 1765.8,1269.3 1767.8,1269.5C1769.8,1269.7 1771.8,1269.9 1773.8,1270.1C1775.8,1270.3 1777.8,1270.4 1779.8,1270.5C1781.8,1270.7 1783.7,1270.8 1785.7,1271.0C1787.7,1271.1 1789.7,1271.3 1791.7,1271.6C1793.7,1271.8 1795.7,1272.2 1797.7,1272.5C1799.7,1272.9 1801.7,1273.3 1803.7,1273.6C1805.7,1273.8 1807.7,1274.1 1809.6,1274.2C1811.6,1274.3 1813.6,1274.2 1815.6,1274.2C1817.6,1274.1 1819.6,1274.0 1821.6,1273.8C1823.6,1273.7 1825.6,1273.5 1827.6,1273.3C1829.6,1273.1 1831.6,1272.9 1833.6,1272.8C1835.5,1272.7 1837.5,1272.5 1839.5,1272.5C1841.5,1272.4 1843.5,1272.5 1845.5,1272.6C1847.5,1272.6 1849.5,1272.8 1851.5,1272.9C1853.5,1273.1 1855.5,1273.3 1857.5,1273.4C1859.5,1273.6 1861.5,1273.7 1863.5,1273.9C1865.4,1274.0 1867.4,1274.1 1869.4,1274.2C1871.4,1274.3 1873.4,1274.4 1875.4,1274.5C1877.4,1274.6 1879.4,1274.7 1881.4,1274.7C1883.4,1274.8 1885.4,1274.9 1887.4,1274.9C1889.4,1275.0 1891.4,1275.0 1893.4,1275.1C1895.4,1275.1 1897.4,1275.1 1899.4,1275.2C1901.4,1275.2 1903.4,1275.2 1905.4,1275.2C1907.4,1275.2 1909.4,1275.2 1911.4,1275.2C1913.4,1275.3 1915.4,1275.3 1917.4,1275.3C1919.4,1275.3 1921.4,1275.3 1923.4,1275.3C1925.4,1275.3 1927.4,1275.3 1929.4,1275.3C1931.4,1275.2 1933.4,1275.2 1935.4,1275.2C1937.4,1275.2 1939.4,1275.2 1941.4,1275.2C1943.4,1275.2 1945.4,1275.2 1947.4,1275.2C1949.4,1275.3 1951.4,1275.3 1953.4,1275.3C1955.4,1275.3 1957.9,1275.3 1959.4,1275.3C1960.9,1275.3 1961.8,1275.4 1962.3,1275.4" stroke="#000000" stroke-width="5.6"/>
</g>
<path d="M988.0,921.7V930.8M988.0,944.6V964.5M988.0,978.3V998.2M988.0,1012.0V1031.9M988.0,1045.7V1065.6M988.0,1079.5V1099.4M988.0,1113.2V1133.1M988.0,1146.9V1166.8M988.0,1180.6V1200.5M988.0,1214.3V1234.2M988.0,1248.1V1268.0" stroke="#000" stroke-width="5.8" fill="none"/>
<path d="M1108.85,811.0V823.4M1108.85,837.4V857.3M1108.85,871.3V891.2M1108.85,905.3V925.2M1108.85,939.2V959.1M1108.85,973.1V993.0M1108.85,1007.0V1027.0M1108.85,1041.0V1060.9M1108.85,1074.9V1094.8M1108.85,1108.8V1128.7M1108.85,1142.8V1162.7M1108.85,1176.7V1196.6M1108.85,1210.6V1230.5M1108.85,1244.6V1264.5" stroke="#000" stroke-width="5.9" fill="none"/>
<path d="M1246.4,741.4V751.8M1246.4,765.8V785.7M1246.4,799.7V819.6M1246.4,833.6V853.5M1246.4,867.5V887.4M1246.4,901.4V921.3M1246.4,935.3V955.2M1246.4,969.2V989.1M1246.4,1003.1V1023.0M1246.4,1037.0V1056.9M1246.4,1070.9V1090.8M1246.4,1104.8V1124.7M1246.4,1138.7V1158.6M1246.4,1172.6V1192.5M1246.4,1206.5V1226.4M1246.4,1240.4V1260.3M1246.4,1274.3V1279.0" stroke="#000" stroke-width="5.2" fill="none"/>
<path d="M1358.0,563.7V583.0M1358.0,597.1V617.0M1358.0,631.0V650.9M1358.0,665.0V684.9M1358.0,698.9V718.8M1358.0,732.9V752.8M1358.0,766.8V786.7M1358.0,800.8V820.7M1358.0,834.7V854.6M1358.0,868.7V888.6M1358.0,902.6V922.5M1358.0,936.6V956.5M1358.0,970.5V990.4M1358.0,1004.5V1024.4M1358.0,1038.4V1058.3M1358.0,1072.4V1092.3M1358.0,1106.3V1126.2M1358.0,1140.3V1160.2M1358.0,1174.2V1194.1M1358.0,1208.2V1228.1M1358.0,1242.1V1262.0M1358.0,1276.1V1279.0" stroke="#000" stroke-width="6.0" fill="none"/>
<path d="M1523.2,144.0V159.8M1523.2,173.8V193.8M1523.2,207.8V227.7M1523.2,241.6V261.5M1523.2,275.5V295.4M1523.2,309.4V329.3M1523.2,343.3V363.2M1523.2,377.2V397.1M1523.2,411.1V431.0M1523.2,445.0V464.9M1523.2,478.9V498.8M1523.2,512.8V532.7M1523.2,546.8V566.6M1523.2,580.6V600.5M1523.2,614.5V634.4M1523.2,648.4V668.3M1523.2,682.3V702.2M1523.2,716.2V736.1M1523.2,750.1V770.0M1523.2,784.0V803.9M1523.2,817.9V837.8M1523.2,851.8V871.7M1523.2,885.8V905.6M1523.2,919.6V939.5M1523.2,953.5V973.4M1523.2,987.4V1007.3M1523.2,1021.3V1041.2M1523.2,1055.2V1075.2M1523.2,1089.2V1109.1M1523.2,1123.0V1143.0M1523.2,1156.9V1176.8M1523.2,1190.8V1210.8M1523.2,1224.8V1244.7M1523.2,1258.7V1278.6" stroke="#000" stroke-width="5.8" fill="none"/>
<rect x="317" y="76" width="1166" height="97" fill="none" stroke="#000" stroke-width="6"/>
<path d="M360.9,124.0H423.0" stroke="#FF33CC" stroke-width="8" stroke-linecap="round" fill="none"/>
<path d="M575.9,124.0H638.0" stroke="#0000FF" stroke-width="8" stroke-linecap="round" fill="none"/>
<path d="M790.6,124.0H852.8" stroke="#00B050" stroke-width="8" stroke-linecap="round" fill="none"/>
<path d="M1039,124.0H1100" stroke="#FF0000" stroke-width="8" stroke-linecap="round" fill="none"/>
<path d="M1285,124.0H1348" stroke="#000000" stroke-width="6.2" stroke-linecap="round" fill="none"/>
<g font-family='"Liberation Sans", sans-serif' font-size="59.5" fill="#000">
<text transform="translate(430.66,143.80) scale(0.9417,1)" xml:space="preserve">30 s</text>
<text transform="translate(644.50,143.80) scale(0.9423,1)" xml:space="preserve">60 s</text>
<text transform="translate(859.73,143.80) scale(0.9573,1)" xml:space="preserve">180 s</text>
<text transform="translate(1107.86,143.80) scale(0.9550,1)" xml:space="preserve">600 s</text>
<text transform="translate(1357.04,144.10) scale(0.7903,1)" xml:space="preserve">REF</text>
<text transform="translate(1543.40,118.00) scale(1.0032,0.985)" xml:space="preserve">With MgF</text>
<text transform="translate(1799.13,131.8) scale(1.0014,1)" font-size="39.3">2</text>
<text transform="translate(1836.34,118.00) scale(1.0326,0.985)" xml:space="preserve">optical window</text>
<text transform="translate(1569.22,238.00) scale(0.9007,1)" xml:space="preserve">C-C/C-H</text>
<text transform="translate(1308.57,551.30) scale(0.8825,1.015)" xml:space="preserve">C-O</text>
<text transform="translate(1185.58,701.50) scale(0.8822,1.015)" xml:space="preserve">C=O</text>
<text transform="translate(1030.20,798.30) scale(0.8978,1.015)" xml:space="preserve">O-C=O</text>
<text transform="translate(862.19,901.40) scale(0.9005,1.015)" xml:space="preserve">O-CO-O</text>
<text transform="translate(1023.25,1467.50) scale(0.9777,0.95)" xml:space="preserve">Binding energy (eV)</text>
<text transform="translate(78.2,1139.80) rotate(-90) scale(1.0084,0.95)">Normalized intensity (arb. units)</text>
<text x="2277.3" y="1378.7" text-anchor="middle">278</text>
<text x="2056.0" y="1378.7" text-anchor="middle">280</text>
<text x="1834.8" y="1378.7" text-anchor="middle">282</text>
<text x="1613.5" y="1378.7" text-anchor="middle">284</text>
<text x="1392.3" y="1378.7" text-anchor="middle">286</text>
<text x="1171.0" y="1378.7" text-anchor="middle">288</text>
<text x="949.8" y="1378.7" text-anchor="middle">290</text>
<text x="728.5" y="1378.7" text-anchor="middle">292</text>
<text x="507.3" y="1378.7" text-anchor="middle">294</text>
<text x="286.0" y="1378.7" text-anchor="middle">296</text>
<text x="225.2" y="1295.0" text-anchor="end">0</text>
<text x="225.2" y="1069.0" text-anchor="end">0.2</text>
<text x="225.2" y="843.0" text-anchor="end">0.4</text>
<text x="225.2" y="617.0" text-anchor="end">0.6</text>
<text x="225.2" y="391.0" text-anchor="end">0.8</text>
<text x="225.2" y="165.0" text-anchor="end">1</text>
</g>
</svg>
</body></html>
